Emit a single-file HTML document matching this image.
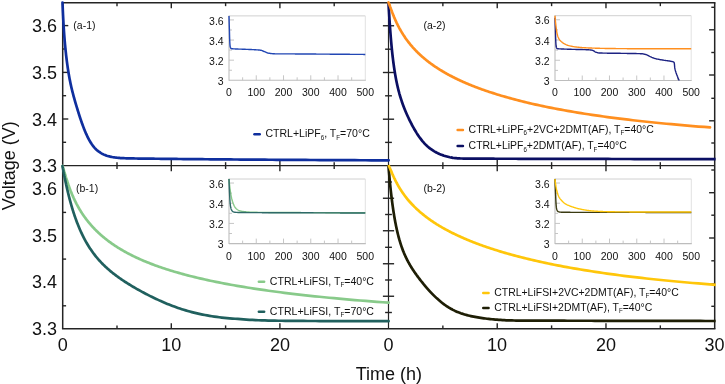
<!DOCTYPE html>
<html><head><meta charset="utf-8"><title>Voltage vs Time</title>
<style>
html,body{margin:0;padding:0;background:#fff;}
body{width:725px;height:384px;overflow:hidden;}
svg{display:block;will-change:transform;font-family:"Liberation Sans",Arial,Helvetica,sans-serif;}
</style></head><body>
<svg width="725" height="384" viewBox="0 0 725 384">
<rect width="725" height="384" fill="#fff"/>
<line x1="61.95" y1="2.75" x2="715.45" y2="2.75" stroke="#242424" stroke-width="1.5"/>
<line x1="62.70" y1="165.60" x2="714.70" y2="165.60" stroke="#242424" stroke-width="1.2"/>
<line x1="61.95" y1="328.80" x2="715.45" y2="328.80" stroke="#242424" stroke-width="1.5"/>
<line x1="62.70" y1="2.75" x2="62.70" y2="328.80" stroke="#242424" stroke-width="1.5"/>
<line x1="388.50" y1="2.75" x2="388.50" y2="328.80" stroke="#242424" stroke-width="1.2"/>
<line x1="714.70" y1="2.75" x2="714.70" y2="328.80" stroke="#242424" stroke-width="1.5"/>
<line x1="117.00" y1="2.75" x2="117.00" y2="6.15" stroke="#242424" stroke-width="1.4"/>
<line x1="117.00" y1="162.20" x2="117.00" y2="169.00" stroke="#242424" stroke-width="1.4"/>
<line x1="117.00" y1="325.40" x2="117.00" y2="328.80" stroke="#242424" stroke-width="1.4"/>
<line x1="171.30" y1="2.75" x2="171.30" y2="8.35" stroke="#242424" stroke-width="1.4"/>
<line x1="171.30" y1="160.00" x2="171.30" y2="171.20" stroke="#242424" stroke-width="1.4"/>
<line x1="171.30" y1="323.20" x2="171.30" y2="328.80" stroke="#242424" stroke-width="1.4"/>
<line x1="225.60" y1="2.75" x2="225.60" y2="6.15" stroke="#242424" stroke-width="1.4"/>
<line x1="225.60" y1="162.20" x2="225.60" y2="169.00" stroke="#242424" stroke-width="1.4"/>
<line x1="225.60" y1="325.40" x2="225.60" y2="328.80" stroke="#242424" stroke-width="1.4"/>
<line x1="279.90" y1="2.75" x2="279.90" y2="8.35" stroke="#242424" stroke-width="1.4"/>
<line x1="279.90" y1="160.00" x2="279.90" y2="171.20" stroke="#242424" stroke-width="1.4"/>
<line x1="279.90" y1="323.20" x2="279.90" y2="328.80" stroke="#242424" stroke-width="1.4"/>
<line x1="334.20" y1="2.75" x2="334.20" y2="6.15" stroke="#242424" stroke-width="1.4"/>
<line x1="334.20" y1="162.20" x2="334.20" y2="169.00" stroke="#242424" stroke-width="1.4"/>
<line x1="442.87" y1="2.75" x2="442.87" y2="6.15" stroke="#242424" stroke-width="1.4"/>
<line x1="442.87" y1="162.20" x2="442.87" y2="169.00" stroke="#242424" stroke-width="1.4"/>
<line x1="442.87" y1="325.40" x2="442.87" y2="328.80" stroke="#242424" stroke-width="1.4"/>
<line x1="497.23" y1="2.75" x2="497.23" y2="8.35" stroke="#242424" stroke-width="1.4"/>
<line x1="497.23" y1="160.00" x2="497.23" y2="171.20" stroke="#242424" stroke-width="1.4"/>
<line x1="497.23" y1="323.20" x2="497.23" y2="328.80" stroke="#242424" stroke-width="1.4"/>
<line x1="551.60" y1="2.75" x2="551.60" y2="6.15" stroke="#242424" stroke-width="1.4"/>
<line x1="551.60" y1="162.20" x2="551.60" y2="169.00" stroke="#242424" stroke-width="1.4"/>
<line x1="551.60" y1="325.40" x2="551.60" y2="328.80" stroke="#242424" stroke-width="1.4"/>
<line x1="605.97" y1="2.75" x2="605.97" y2="8.35" stroke="#242424" stroke-width="1.4"/>
<line x1="605.97" y1="160.00" x2="605.97" y2="171.20" stroke="#242424" stroke-width="1.4"/>
<line x1="605.97" y1="323.20" x2="605.97" y2="328.80" stroke="#242424" stroke-width="1.4"/>
<line x1="660.33" y1="2.75" x2="660.33" y2="6.15" stroke="#242424" stroke-width="1.4"/>
<line x1="660.33" y1="162.20" x2="660.33" y2="169.00" stroke="#242424" stroke-width="1.4"/>
<line x1="660.33" y1="325.40" x2="660.33" y2="328.80" stroke="#242424" stroke-width="1.4"/>
<line x1="62.70" y1="25.60" x2="68.30" y2="25.60" stroke="#242424" stroke-width="1.4"/>
<line x1="62.70" y1="72.40" x2="68.30" y2="72.40" stroke="#242424" stroke-width="1.4"/>
<line x1="62.70" y1="119.00" x2="68.30" y2="119.00" stroke="#242424" stroke-width="1.4"/>
<line x1="62.70" y1="49.00" x2="66.10" y2="49.00" stroke="#242424" stroke-width="1.4"/>
<line x1="62.70" y1="95.70" x2="66.10" y2="95.70" stroke="#242424" stroke-width="1.4"/>
<line x1="62.70" y1="142.30" x2="66.10" y2="142.30" stroke="#242424" stroke-width="1.4"/>
<line x1="62.70" y1="212.40" x2="66.10" y2="212.40" stroke="#242424" stroke-width="1.4"/>
<line x1="62.70" y1="259.10" x2="66.10" y2="259.10" stroke="#242424" stroke-width="1.4"/>
<line x1="62.70" y1="305.80" x2="66.10" y2="305.80" stroke="#242424" stroke-width="1.4"/>
<line x1="388.50" y1="25.75" x2="382.90" y2="25.75" stroke="#242424" stroke-width="1.4"/>
<line x1="388.50" y1="25.75" x2="394.10" y2="25.75" stroke="#242424" stroke-width="1.4"/>
<line x1="388.50" y1="72.50" x2="382.90" y2="72.50" stroke="#242424" stroke-width="1.4"/>
<line x1="388.50" y1="72.50" x2="394.10" y2="72.50" stroke="#242424" stroke-width="1.4"/>
<line x1="388.50" y1="119.20" x2="382.90" y2="119.20" stroke="#242424" stroke-width="1.4"/>
<line x1="388.50" y1="119.20" x2="394.10" y2="119.20" stroke="#242424" stroke-width="1.4"/>
<line x1="388.50" y1="49.20" x2="385.10" y2="49.20" stroke="#242424" stroke-width="1.4"/>
<line x1="388.50" y1="49.20" x2="391.90" y2="49.20" stroke="#242424" stroke-width="1.4"/>
<line x1="388.50" y1="95.80" x2="385.10" y2="95.80" stroke="#242424" stroke-width="1.4"/>
<line x1="388.50" y1="95.80" x2="391.90" y2="95.80" stroke="#242424" stroke-width="1.4"/>
<line x1="388.50" y1="142.40" x2="385.10" y2="142.40" stroke="#242424" stroke-width="1.4"/>
<line x1="388.50" y1="142.40" x2="391.90" y2="142.40" stroke="#242424" stroke-width="1.4"/>
<line x1="388.50" y1="198.25" x2="382.90" y2="198.25" stroke="#242424" stroke-width="1.4"/>
<line x1="388.50" y1="198.25" x2="394.10" y2="198.25" stroke="#242424" stroke-width="1.4"/>
<line x1="388.50" y1="230.75" x2="382.90" y2="230.75" stroke="#242424" stroke-width="1.4"/>
<line x1="388.50" y1="230.75" x2="394.10" y2="230.75" stroke="#242424" stroke-width="1.4"/>
<line x1="388.50" y1="263.75" x2="382.90" y2="263.75" stroke="#242424" stroke-width="1.4"/>
<line x1="388.50" y1="263.75" x2="394.10" y2="263.75" stroke="#242424" stroke-width="1.4"/>
<line x1="388.50" y1="296.25" x2="382.90" y2="296.25" stroke="#242424" stroke-width="1.4"/>
<line x1="388.50" y1="296.25" x2="394.10" y2="296.25" stroke="#242424" stroke-width="1.4"/>
<line x1="388.50" y1="182.00" x2="385.10" y2="182.00" stroke="#242424" stroke-width="1.4"/>
<line x1="388.50" y1="182.00" x2="391.90" y2="182.00" stroke="#242424" stroke-width="1.4"/>
<line x1="388.50" y1="214.50" x2="385.10" y2="214.50" stroke="#242424" stroke-width="1.4"/>
<line x1="388.50" y1="214.50" x2="391.90" y2="214.50" stroke="#242424" stroke-width="1.4"/>
<line x1="388.50" y1="247.30" x2="385.10" y2="247.30" stroke="#242424" stroke-width="1.4"/>
<line x1="388.50" y1="247.30" x2="391.90" y2="247.30" stroke="#242424" stroke-width="1.4"/>
<line x1="388.50" y1="280.00" x2="385.10" y2="280.00" stroke="#242424" stroke-width="1.4"/>
<line x1="388.50" y1="280.00" x2="391.90" y2="280.00" stroke="#242424" stroke-width="1.4"/>
<line x1="388.50" y1="312.50" x2="385.10" y2="312.50" stroke="#242424" stroke-width="1.4"/>
<line x1="388.50" y1="312.50" x2="391.90" y2="312.50" stroke="#242424" stroke-width="1.4"/>
<line x1="714.70" y1="29.80" x2="709.10" y2="29.80" stroke="#242424" stroke-width="1.4"/>
<line x1="714.70" y1="75.00" x2="709.10" y2="75.00" stroke="#242424" stroke-width="1.4"/>
<line x1="714.70" y1="120.80" x2="709.10" y2="120.80" stroke="#242424" stroke-width="1.4"/>
<line x1="714.70" y1="7.30" x2="711.30" y2="7.30" stroke="#242424" stroke-width="1.4"/>
<line x1="714.70" y1="52.50" x2="711.30" y2="52.50" stroke="#242424" stroke-width="1.4"/>
<line x1="714.70" y1="98.30" x2="711.30" y2="98.30" stroke="#242424" stroke-width="1.4"/>
<line x1="714.70" y1="143.00" x2="711.30" y2="143.00" stroke="#242424" stroke-width="1.4"/>
<line x1="714.70" y1="192.70" x2="709.10" y2="192.70" stroke="#242424" stroke-width="1.4"/>
<line x1="714.70" y1="238.00" x2="709.10" y2="238.00" stroke="#242424" stroke-width="1.4"/>
<line x1="714.70" y1="284.00" x2="709.10" y2="284.00" stroke="#242424" stroke-width="1.4"/>
<line x1="714.70" y1="170.00" x2="711.30" y2="170.00" stroke="#242424" stroke-width="1.4"/>
<line x1="714.70" y1="215.20" x2="711.30" y2="215.20" stroke="#242424" stroke-width="1.4"/>
<line x1="714.70" y1="260.80" x2="711.30" y2="260.80" stroke="#242424" stroke-width="1.4"/>
<line x1="714.70" y1="306.30" x2="711.30" y2="306.30" stroke="#242424" stroke-width="1.4"/>
<path d="M62.50,2.60 L62.55,4.03 L62.61,5.45 L62.67,6.85 L62.73,8.24 L62.78,9.61 L62.84,10.98 L62.91,12.33 L62.97,13.66 L63.03,14.99 L63.10,16.30 L63.16,17.60 L63.23,18.89 L63.30,20.17 L63.37,21.44 L63.44,22.70 L63.51,23.94 L63.58,25.18 L63.66,26.41 L63.73,27.62 L63.81,28.83 L63.89,30.03 L63.97,31.22 L64.05,32.39 L64.14,33.57 L64.22,34.73 L64.31,35.88 L64.40,37.03 L64.49,38.17 L64.58,39.30 L64.67,40.43 L64.76,41.55 L64.86,42.66 L64.96,43.76 L65.06,44.86 L65.16,45.96 L65.26,47.04 L65.37,48.13 L65.48,49.20 L65.59,50.28 L65.70,51.35 L65.81,52.41 L65.93,53.47 L66.04,54.53 L66.16,55.58 L66.29,56.63 L66.41,57.67 L66.54,58.72 L66.67,59.76 L66.80,60.80 L66.93,61.83 L67.07,62.87 L67.20,63.89 L67.35,64.92 L67.49,65.94 L67.64,66.96 L67.78,67.98 L67.94,68.99 L68.09,70.00 L68.25,71.01 L68.41,72.01 L68.57,73.01 L68.74,74.00 L68.91,74.99 L69.08,75.98 L69.25,76.96 L69.43,77.94 L69.61,78.91 L69.80,79.88 L69.99,80.84 L70.18,81.80 L70.38,82.76 L70.57,83.70 L70.78,84.65 L70.98,85.59 L71.19,86.52 L71.41,87.46 L71.63,88.39 L71.85,89.31 L72.07,90.24 L72.30,91.17 L72.54,92.10 L72.78,93.03 L73.02,93.96 L73.27,94.89 L73.52,95.83 L73.78,96.77 L74.04,97.72 L74.30,98.67 L74.57,99.63 L74.85,100.59 L75.13,101.57 L75.42,102.55 L75.71,103.55 L76.01,104.55 L76.31,105.56 L76.62,106.59 L76.93,107.63 L77.25,108.68 L77.57,109.75 L77.90,110.82 L78.24,111.91 L78.58,113.01 L78.93,114.12 L79.29,115.23 L79.65,116.35 L80.02,117.48 L80.39,118.62 L80.78,119.76 L81.17,120.90 L81.56,122.04 L81.97,123.19 L82.38,124.33 L82.80,125.48 L83.22,126.62 L83.66,127.76 L84.10,128.90 L84.55,130.02 L85.01,131.14 L85.48,132.25 L85.95,133.35 L86.44,134.43 L86.93,135.50 L87.43,136.56 L87.94,137.59 L88.46,138.61 L88.99,139.61 L89.53,140.58 L90.08,141.53 L90.64,142.45 L91.21,143.35 L91.79,144.22 L92.38,145.06 L92.99,145.87 L93.60,146.65 L94.22,147.39 L94.86,148.10 L95.51,148.78 L96.16,149.43 L96.84,150.05 L97.52,150.63 L98.22,151.19 L98.92,151.73 L99.65,152.23 L100.38,152.71 L101.13,153.16 L101.89,153.59 L102.67,153.99 L103.46,154.37 L104.26,154.73 L105.08,155.06 L105.92,155.38 L106.77,155.67 L107.63,155.94 L108.51,156.20 L109.41,156.43 L110.32,156.65 L111.25,156.85 L112.20,157.04 L113.16,157.21 L114.15,157.36 L115.15,157.50 L116.17,157.63 L117.20,157.75 L118.26,157.85 L119.33,157.94 L120.43,158.03 L121.54,158.10 L122.68,158.16 L123.84,158.22 L125.01,158.27 L126.21,158.31 L127.44,158.35 L128.68,158.38 L129.95,158.41 L131.23,158.43 L132.55,158.45 L133.88,158.47 L135.25,158.49 L136.63,158.51 L138.04,158.53 L139.48,158.54 L140.95,158.56 L142.44,158.58 L143.96,158.60 L145.50,158.61 L147.08,158.63 L148.68,158.65 L150.31,158.67 L151.97,158.69 L153.67,158.71 L155.39,158.73 L157.15,158.75 L158.93,158.77 L160.75,158.79 L162.61,158.81 L164.49,158.84 L166.42,158.86 L168.37,158.88 L170.37,158.90 L172.39,158.92 L174.46,158.94 L176.57,158.97 L178.71,158.99 L180.89,159.01 L183.11,159.03 L185.37,159.06 L187.68,159.08 L190.03,159.10 L192.41,159.13 L194.85,159.15 L197.32,159.17 L199.85,159.20 L202.42,159.22 L205.03,159.25 L207.70,159.27 L210.41,159.30 L213.17,159.32 L215.98,159.34 L218.85,159.37 L221.77,159.39 L224.74,159.42 L227.76,159.44 L230.84,159.47 L233.98,159.49 L237.17,159.52 L240.42,159.54 L243.73,159.57 L247.11,159.59 L250.54,159.62 L254.04,159.64 L257.60,159.67 L261.23,159.69 L264.92,159.72 L268.68,159.74 L272.51,159.77 L276.41,159.79 L280.38,159.82 L284.42,159.84 L288.54,159.87 L292.73,159.89 L297.00,159.92 L301.35,159.94 L305.77,159.97 L310.28,159.99 L314.87,160.02 L319.55,160.04 L324.31,160.07 L329.15,160.09 L334.09,160.11 L339.11,160.14 L344.23,160.16 L349.44,160.19 L354.75,160.21 L360.16,160.23 L365.66,160.26 L371.26,160.28 L376.97,160.30 L382.78,160.33 L388.70,160.35" fill="none" stroke="#0f2f9e" stroke-width="2.7" stroke-linecap="round" stroke-linejoin="round"/>
<path d="M388.50,2.50 L388.55,3.41 L388.60,4.32 L388.64,5.24 L388.69,6.16 L388.75,7.09 L388.80,8.02 L388.85,8.96 L388.90,9.90 L388.96,10.84 L389.01,11.79 L389.07,12.75 L389.12,13.70 L389.18,14.66 L389.24,15.62 L389.30,16.59 L389.36,17.56 L389.42,18.53 L389.48,19.51 L389.54,20.49 L389.61,21.47 L389.67,22.45 L389.74,23.44 L389.81,24.43 L389.88,25.42 L389.94,26.41 L390.01,27.40 L390.09,28.40 L390.16,29.39 L390.23,30.39 L390.31,31.39 L390.38,32.39 L390.46,33.39 L390.54,34.39 L390.62,35.40 L390.70,36.40 L390.78,37.40 L390.87,38.40 L390.95,39.40 L391.04,40.41 L391.13,41.41 L391.22,42.41 L391.31,43.41 L391.40,44.41 L391.49,45.40 L391.59,46.40 L391.68,47.39 L391.78,48.38 L391.88,49.38 L391.98,50.36 L392.08,51.35 L392.19,52.33 L392.29,53.32 L392.40,54.29 L392.51,55.27 L392.62,56.24 L392.74,57.21 L392.85,58.18 L392.97,59.14 L393.09,60.10 L393.21,61.06 L393.33,62.01 L393.45,62.96 L393.58,63.91 L393.71,64.85 L393.84,65.78 L393.97,66.72 L394.10,67.64 L394.24,68.57 L394.38,69.49 L394.52,70.40 L394.66,71.31 L394.81,72.22 L394.95,73.12 L395.10,74.01 L395.25,74.90 L395.41,75.79 L395.57,76.67 L395.73,77.54 L395.89,78.41 L396.05,79.28 L396.22,80.14 L396.39,80.99 L396.56,81.84 L396.74,82.69 L396.92,83.53 L397.10,84.37 L397.28,85.20 L397.47,86.02 L397.66,86.84 L397.85,87.66 L398.04,88.47 L398.24,89.28 L398.45,90.08 L398.65,90.88 L398.86,91.67 L399.07,92.47 L399.29,93.25 L399.50,94.04 L399.73,94.81 L399.95,95.59 L400.18,96.36 L400.41,97.13 L400.65,97.90 L400.89,98.66 L401.13,99.43 L401.38,100.19 L401.63,100.94 L401.89,101.70 L402.15,102.45 L402.41,103.20 L402.68,103.96 L402.95,104.71 L403.23,105.45 L403.51,106.20 L403.79,106.95 L404.08,107.70 L404.38,108.45 L404.68,109.20 L404.98,109.95 L405.29,110.70 L405.60,111.45 L405.92,112.20 L406.25,112.96 L406.58,113.71 L406.91,114.47 L407.25,115.23 L407.59,115.99 L407.94,116.75 L408.30,117.52 L408.66,118.29 L409.03,119.06 L409.40,119.83 L409.78,120.60 L410.16,121.38 L410.55,122.15 L410.95,122.93 L411.35,123.72 L411.76,124.50 L412.18,125.28 L412.60,126.07 L413.03,126.85 L413.47,127.64 L413.91,128.43 L414.36,129.21 L414.82,130.00 L415.28,130.78 L415.76,131.56 L416.24,132.34 L416.72,133.12 L417.22,133.89 L417.72,134.66 L418.23,135.42 L418.75,136.18 L419.28,136.93 L419.81,137.68 L420.35,138.41 L420.91,139.14 L421.47,139.86 L422.04,140.57 L422.62,141.28 L423.21,141.96 L423.80,142.64 L424.41,143.31 L425.03,143.96 L425.65,144.60 L426.29,145.23 L426.94,145.84 L427.59,146.44 L428.26,147.03 L428.94,147.60 L429.62,148.15 L430.32,148.69 L431.03,149.22 L431.76,149.73 L432.49,150.22 L433.23,150.70 L433.99,151.17 L434.76,151.62 L435.54,152.05 L436.33,152.47 L437.14,152.88 L437.96,153.28 L438.79,153.66 L439.63,154.03 L440.49,154.38 L441.36,154.72 L442.24,155.05 L443.14,155.37 L444.06,155.68 L444.99,155.97 L445.93,156.25 L446.89,156.52 L447.86,156.77 L448.85,157.01 L449.85,157.24 L450.87,157.45 L451.91,157.64 L452.96,157.82 L454.03,157.97 L455.11,158.11 L456.22,158.21 L457.34,158.30 L458.47,158.37 L459.63,158.43 L460.81,158.48 L462.00,158.52 L463.21,158.55 L464.44,158.58 L465.69,158.60 L466.96,158.62 L468.26,158.63 L469.57,158.64 L470.90,158.65 L472.25,158.66 L473.63,158.67 L475.02,158.68 L476.44,158.68 L477.88,158.69 L479.35,158.69 L480.83,158.69 L482.34,158.70 L483.88,158.70 L485.44,158.71 L487.02,158.71 L488.63,158.71 L490.26,158.72 L491.92,158.72 L493.61,158.72 L495.32,158.73 L497.06,158.73 L498.83,158.74 L500.63,158.74 L502.45,158.74 L504.31,158.75 L506.19,158.75 L508.10,158.76 L510.04,158.76 L512.02,158.76 L514.02,158.77 L516.06,158.77 L518.13,158.78 L520.23,158.78 L522.36,158.79 L524.53,158.79 L526.73,158.80 L528.97,158.80 L531.25,158.81 L533.56,158.81 L535.90,158.82 L538.29,158.82 L540.71,158.83 L543.17,158.83 L545.66,158.84 L548.20,158.84 L550.78,158.85 L553.40,158.85 L556.06,158.86 L558.76,158.86 L561.51,158.87 L564.30,158.88 L567.13,158.88 L570.01,158.89 L572.93,158.89 L575.90,158.90 L578.92,158.91 L581.98,158.91 L585.10,158.92 L588.26,158.93 L591.47,158.93 L594.74,158.94 L598.05,158.95 L601.42,158.96 L604.84,158.96 L608.32,158.97 L611.85,158.98 L615.44,158.99 L619.08,158.99 L622.78,159.00 L626.54,159.01 L630.36,159.02 L634.24,159.03 L638.18,159.03 L642.18,159.04 L646.25,159.05 L650.38,159.06 L654.58,159.07 L658.85,159.08 L663.18,159.09 L667.58,159.10 L672.05,159.11 L676.59,159.12 L681.20,159.13 L685.89,159.14 L690.65,159.15 L695.48,159.16 L700.39,159.17 L705.38,159.18 L710.45,159.19 L715.60,159.20" fill="none" stroke="#0b0f63" stroke-width="2.7" stroke-linecap="butt" stroke-linejoin="round"/>
<path d="M388.50,2.50 L388.55,2.61 L388.61,2.73 L388.67,2.86 L388.73,2.99 L388.78,3.12 L388.84,3.26 L388.90,3.41 L388.97,3.56 L389.03,3.71 L389.09,3.87 L389.16,4.04 L389.23,4.21 L389.30,4.39 L389.36,4.57 L389.43,4.75 L389.51,4.94 L389.58,5.14 L389.65,5.34 L389.73,5.54 L389.81,5.75 L389.89,5.96 L389.97,6.18 L390.05,6.41 L390.13,6.64 L390.21,6.87 L390.30,7.11 L390.39,7.35 L390.48,7.60 L390.57,7.85 L390.66,8.10 L390.76,8.36 L390.85,8.63 L390.95,8.90 L391.05,9.17 L391.15,9.45 L391.25,9.73 L391.36,10.02 L391.46,10.31 L391.57,10.60 L391.68,10.90 L391.80,11.21 L391.91,11.52 L392.03,11.83 L392.15,12.14 L392.27,12.46 L392.39,12.79 L392.52,13.12 L392.65,13.45 L392.78,13.79 L392.91,14.13 L393.04,14.47 L393.18,14.82 L393.32,15.17 L393.47,15.53 L393.61,15.89 L393.76,16.25 L393.91,16.62 L394.06,16.99 L394.22,17.36 L394.38,17.74 L394.54,18.12 L394.71,18.51 L394.87,18.90 L395.04,19.29 L395.22,19.69 L395.40,20.09 L395.58,20.49 L395.76,20.90 L395.95,21.31 L396.14,21.72 L396.33,22.14 L396.53,22.56 L396.73,22.99 L396.94,23.41 L397.15,23.84 L397.36,24.28 L397.57,24.72 L397.79,25.16 L398.02,25.60 L398.25,26.05 L398.48,26.50 L398.72,26.95 L398.96,27.41 L399.20,27.86 L399.45,28.33 L399.71,28.79 L399.97,29.26 L400.23,29.73 L400.50,30.20 L400.77,30.68 L401.05,31.16 L401.34,31.64 L401.63,32.13 L401.92,32.61 L402.22,33.11 L402.52,33.60 L402.84,34.09 L403.15,34.59 L403.47,35.09 L403.80,35.60 L404.14,36.10 L404.48,36.61 L404.82,37.13 L405.17,37.64 L405.53,38.16 L405.90,38.67 L406.27,39.20 L406.65,39.72 L407.04,40.25 L407.43,40.77 L407.83,41.30 L408.24,41.84 L408.65,42.37 L409.07,42.91 L409.50,43.45 L409.94,43.99 L410.39,44.53 L410.84,45.08 L411.31,45.63 L411.78,46.18 L412.26,46.73 L412.74,47.29 L413.24,47.84 L413.75,48.40 L414.26,48.96 L414.79,49.52 L415.32,50.08 L415.87,50.65 L416.42,51.22 L416.98,51.79 L417.56,52.36 L418.14,52.93 L418.74,53.50 L419.35,54.08 L419.96,54.66 L420.59,55.24 L421.23,55.82 L421.89,56.40 L422.55,56.98 L423.23,57.57 L423.91,58.16 L424.61,58.74 L425.33,59.33 L426.06,59.93 L426.80,60.52 L427.55,61.11 L428.32,61.71 L429.10,62.30 L429.89,62.90 L430.70,63.50 L431.53,64.10 L432.37,64.70 L433.22,65.30 L434.09,65.91 L434.98,66.51 L435.88,67.12 L436.80,67.73 L437.74,68.33 L438.69,68.94 L439.66,69.55 L440.65,70.16 L441.66,70.77 L442.68,71.39 L443.73,72.00 L444.79,72.61 L445.87,73.23 L446.97,73.84 L448.09,74.46 L449.24,75.08 L450.40,75.70 L451.58,76.31 L452.79,76.93 L454.02,77.55 L455.27,78.17 L456.54,78.79 L457.84,79.42 L459.16,80.04 L460.50,80.66 L461.87,81.28 L463.26,81.91 L464.68,82.53 L466.13,83.15 L467.60,83.78 L469.10,84.40 L470.62,85.03 L472.18,85.65 L473.76,86.28 L475.37,86.90 L477.01,87.53 L478.68,88.16 L480.38,88.78 L482.11,89.41 L483.87,90.03 L485.67,90.66 L487.50,91.29 L489.36,91.91 L491.25,92.54 L493.18,93.16 L495.15,93.79 L497.15,94.42 L499.19,95.04 L501.26,95.67 L503.37,96.29 L505.52,96.91 L507.71,97.54 L509.94,98.16 L512.21,98.78 L514.53,99.40 L516.88,100.02 L519.28,100.64 L521.72,101.25 L524.21,101.87 L526.74,102.48 L529.31,103.09 L531.94,103.70 L534.61,104.31 L537.33,104.92 L540.10,105.52 L542.92,106.13 L545.80,106.73 L548.72,107.33 L551.70,107.92 L554.73,108.52 L557.82,109.11 L560.97,109.69 L564.17,110.28 L567.43,110.86 L570.75,111.44 L574.13,112.02 L577.57,112.59 L581.07,113.16 L584.64,113.73 L588.28,114.29 L591.98,114.85 L595.75,115.41 L599.58,115.96 L603.49,116.51 L607.47,117.05 L611.52,117.59 L615.64,118.13 L619.84,118.66 L624.12,119.19 L628.47,119.71 L632.91,120.23 L637.42,120.75 L642.02,121.26 L646.70,121.76 L651.47,122.26 L656.32,122.76 L661.26,123.25 L666.29,123.73 L671.42,124.21 L676.63,124.69 L681.95,125.15 L687.36,125.62 L692.86,126.07 L698.47,126.53 L704.18,126.97 L710.00,127.41" fill="none" stroke="#ff8f1f" stroke-width="2.7" stroke-linecap="round" stroke-linejoin="round"/>
<path d="M62.50,166.00 L62.55,166.14 L62.61,166.29 L62.67,166.44 L62.73,166.60 L62.78,166.77 L62.84,166.94 L62.91,167.12 L62.97,167.30 L63.03,167.50 L63.10,167.70 L63.16,167.90 L63.23,168.11 L63.30,168.33 L63.37,168.55 L63.44,168.79 L63.51,169.02 L63.58,169.26 L63.66,169.51 L63.73,169.77 L63.81,170.03 L63.89,170.30 L63.97,170.57 L64.05,170.85 L64.14,171.13 L64.22,171.42 L64.31,171.72 L64.40,172.02 L64.49,172.33 L64.58,172.64 L64.67,172.96 L64.76,173.28 L64.86,173.61 L64.96,173.95 L65.06,174.29 L65.16,174.63 L65.26,174.98 L65.37,175.34 L65.48,175.70 L65.59,176.07 L65.70,176.44 L65.81,176.82 L65.93,177.20 L66.04,177.58 L66.16,177.98 L66.29,178.37 L66.41,178.77 L66.54,179.18 L66.67,179.59 L66.80,180.01 L66.93,180.43 L67.07,180.85 L67.20,181.28 L67.35,181.72 L67.49,182.15 L67.64,182.60 L67.78,183.04 L67.94,183.50 L68.09,183.95 L68.25,184.41 L68.41,184.88 L68.57,185.35 L68.74,185.82 L68.91,186.30 L69.08,186.78 L69.25,187.26 L69.43,187.75 L69.61,188.24 L69.80,188.74 L69.99,189.24 L70.18,189.75 L70.37,190.25 L70.57,190.77 L70.78,191.28 L70.98,191.80 L71.19,192.32 L71.41,192.85 L71.62,193.38 L71.85,193.91 L72.07,194.45 L72.30,194.99 L72.54,195.53 L72.78,196.08 L73.02,196.63 L73.27,197.18 L73.52,197.74 L73.77,198.30 L74.04,198.86 L74.30,199.42 L74.57,199.99 L74.85,200.56 L75.13,201.14 L75.42,201.71 L75.71,202.29 L76.00,202.87 L76.31,203.46 L76.61,204.05 L76.93,204.64 L77.25,205.23 L77.57,205.82 L77.90,206.42 L78.24,207.02 L78.58,207.62 L78.93,208.23 L79.29,208.84 L79.65,209.45 L80.02,210.06 L80.39,210.67 L80.77,211.29 L81.16,211.90 L81.56,212.52 L81.96,213.15 L82.38,213.77 L82.79,214.39 L83.22,215.02 L83.65,215.65 L84.10,216.28 L84.55,216.92 L85.01,217.55 L85.47,218.19 L85.95,218.82 L86.43,219.46 L86.92,220.10 L87.43,220.75 L87.94,221.39 L88.46,222.03 L88.99,222.68 L89.53,223.33 L90.08,223.98 L90.64,224.63 L91.21,225.28 L91.79,225.93 L92.38,226.58 L92.98,227.24 L93.59,227.89 L94.22,228.55 L94.85,229.21 L95.50,229.86 L96.16,230.52 L96.83,231.18 L97.51,231.84 L98.21,232.50 L98.92,233.16 L99.64,233.82 L100.37,234.49 L101.12,235.15 L101.88,235.81 L102.66,236.48 L103.45,237.14 L104.25,237.81 L105.07,238.47 L105.91,239.14 L106.76,239.80 L107.62,240.47 L108.50,241.13 L109.40,241.80 L110.31,242.46 L111.24,243.13 L112.19,243.79 L113.15,244.46 L114.14,245.12 L115.14,245.79 L116.15,246.45 L117.19,247.11 L118.25,247.78 L119.32,248.44 L120.42,249.10 L121.53,249.77 L122.67,250.43 L123.82,251.09 L125.00,251.75 L126.20,252.41 L127.42,253.07 L128.66,253.73 L129.93,254.39 L131.22,255.04 L132.53,255.70 L133.87,256.35 L135.23,257.01 L136.62,257.66 L138.03,258.31 L139.47,258.96 L140.93,259.61 L142.42,260.26 L143.94,260.91 L145.48,261.55 L147.06,262.20 L148.66,262.84 L150.29,263.48 L151.95,264.12 L153.65,264.76 L155.37,265.40 L157.12,266.04 L158.91,266.67 L160.73,267.30 L162.58,267.93 L164.47,268.56 L166.39,269.19 L168.35,269.82 L170.34,270.44 L172.37,271.06 L174.43,271.68 L176.54,272.30 L178.68,272.91 L180.86,273.53 L183.08,274.14 L185.34,274.75 L187.65,275.35 L189.99,275.96 L192.38,276.56 L194.81,277.16 L197.29,277.75 L199.81,278.35 L202.38,278.94 L205.00,279.53 L207.66,280.12 L210.37,280.70 L213.13,281.28 L215.94,281.86 L218.81,282.44 L221.72,283.01 L224.69,283.58 L227.72,284.15 L230.80,284.71 L233.93,285.28 L237.12,285.83 L240.38,286.39 L243.69,286.94 L247.06,287.49 L250.49,288.04 L253.99,288.58 L257.55,289.12 L261.17,289.65 L264.86,290.19 L268.62,290.72 L272.45,291.24 L276.35,291.76 L280.31,292.28 L284.36,292.80 L288.47,293.31 L292.66,293.82 L296.93,294.32 L301.28,294.82 L305.70,295.31 L310.21,295.81 L314.80,296.30 L319.47,296.78 L324.23,297.26 L329.07,297.74 L334.01,298.21 L339.03,298.68 L344.15,299.14 L349.36,299.60 L354.66,300.05 L360.07,300.51 L365.57,300.95 L371.17,301.39 L376.88,301.83 L382.68,302.26 L388.60,302.69" fill="none" stroke="#88ca8a" stroke-width="2.7" stroke-linecap="round" stroke-linejoin="round"/>
<path d="M62.50,166.01 L62.55,166.28 L62.60,166.55 L62.64,166.82 L62.69,167.10 L62.75,167.38 L62.80,167.67 L62.85,167.96 L62.90,168.25 L62.96,168.54 L63.01,168.84 L63.07,169.15 L63.12,169.45 L63.18,169.76 L63.24,170.08 L63.30,170.40 L63.36,170.72 L63.42,171.05 L63.48,171.38 L63.54,171.71 L63.61,172.05 L63.67,172.39 L63.74,172.74 L63.81,173.09 L63.87,173.45 L63.94,173.81 L64.01,174.17 L64.09,174.54 L64.16,174.91 L64.23,175.29 L64.31,175.67 L64.38,176.05 L64.46,176.44 L64.54,176.84 L64.62,177.24 L64.70,177.64 L64.78,178.05 L64.87,178.46 L64.95,178.88 L65.04,179.30 L65.12,179.72 L65.21,180.15 L65.30,180.59 L65.40,181.03 L65.49,181.47 L65.58,181.92 L65.68,182.37 L65.78,182.83 L65.88,183.30 L65.98,183.76 L66.08,184.24 L66.19,184.71 L66.29,185.19 L66.40,185.68 L66.51,186.17 L66.62,186.67 L66.73,187.17 L66.85,187.68 L66.96,188.19 L67.08,188.70 L67.20,189.22 L67.32,189.75 L67.45,190.28 L67.57,190.81 L67.70,191.35 L67.83,191.89 L67.96,192.44 L68.10,192.99 L68.23,193.55 L68.37,194.11 L68.51,194.68 L68.65,195.25 L68.80,195.83 L68.95,196.41 L69.10,196.99 L69.25,197.58 L69.40,198.18 L69.56,198.78 L69.72,199.38 L69.88,199.99 L70.04,200.60 L70.21,201.22 L70.38,201.84 L70.55,202.46 L70.73,203.09 L70.91,203.73 L71.09,204.36 L71.27,205.01 L71.46,205.65 L71.65,206.30 L71.84,206.95 L72.03,207.61 L72.23,208.27 L72.43,208.94 L72.64,209.60 L72.85,210.28 L73.06,210.95 L73.27,211.63 L73.49,212.31 L73.71,213.00 L73.94,213.69 L74.17,214.38 L74.40,215.07 L74.63,215.77 L74.87,216.47 L75.12,217.17 L75.36,217.88 L75.61,218.59 L75.87,219.30 L76.13,220.01 L76.39,220.73 L76.66,221.45 L76.93,222.17 L77.21,222.89 L77.49,223.61 L77.77,224.34 L78.06,225.07 L78.36,225.80 L78.66,226.53 L78.96,227.26 L79.27,227.99 L79.58,228.73 L79.90,229.47 L80.22,230.20 L80.55,230.94 L80.88,231.68 L81.22,232.42 L81.56,233.16 L81.91,233.90 L82.27,234.64 L82.63,235.38 L83.00,236.12 L83.37,236.86 L83.75,237.60 L84.13,238.34 L84.52,239.09 L84.92,239.83 L85.32,240.57 L85.73,241.30 L86.14,242.04 L86.56,242.78 L86.99,243.52 L87.43,244.25 L87.87,244.99 L88.32,245.72 L88.78,246.45 L89.24,247.18 L89.71,247.91 L90.19,248.64 L90.68,249.37 L91.17,250.09 L91.67,250.82 L92.18,251.54 L92.70,252.26 L93.22,252.98 L93.76,253.69 L94.30,254.41 L94.85,255.12 L95.41,255.83 L95.98,256.54 L96.56,257.24 L97.14,257.95 L97.74,258.65 L98.35,259.35 L98.96,260.04 L99.59,260.74 L100.22,261.43 L100.87,262.12 L101.52,262.81 L102.19,263.50 L102.86,264.19 L103.55,264.87 L104.25,265.55 L104.95,266.23 L105.67,266.91 L106.41,267.58 L107.15,268.26 L107.90,268.93 L108.67,269.60 L109.45,270.27 L110.24,270.94 L111.04,271.61 L111.86,272.27 L112.69,272.94 L113.53,273.61 L114.39,274.27 L115.25,274.93 L116.14,275.60 L117.03,276.26 L117.95,276.93 L118.87,277.59 L119.81,278.25 L120.77,278.92 L121.74,279.58 L122.72,280.25 L123.72,280.92 L124.74,281.59 L125.77,282.25 L126.82,282.93 L127.89,283.60 L128.97,284.27 L130.07,284.95 L131.19,285.63 L132.32,286.31 L133.48,286.99 L134.65,287.68 L135.84,288.37 L137.05,289.06 L138.28,289.75 L139.52,290.44 L140.79,291.14 L142.08,291.84 L143.39,292.54 L144.71,293.25 L146.06,293.96 L147.43,294.66 L148.83,295.38 L150.24,296.09 L151.68,296.80 L153.14,297.51 L154.62,298.23 L156.13,298.94 L157.66,299.65 L159.21,300.37 L160.79,301.08 L162.39,301.78 L164.02,302.49 L165.68,303.19 L167.36,303.88 L169.07,304.57 L170.80,305.26 L172.57,305.93 L174.36,306.60 L176.18,307.26 L178.02,307.91 L179.90,308.55 L181.81,309.17 L183.74,309.79 L185.71,310.39 L187.71,310.97 L189.74,311.54 L191.80,312.09 L193.90,312.63 L196.03,313.15 L198.19,313.65 L200.38,314.13 L202.62,314.59 L204.88,315.03 L207.18,315.45 L209.52,315.85 L211.90,316.23 L214.31,316.59 L216.76,316.93 L219.25,317.25 L221.78,317.54 L224.35,317.82 L226.96,318.09 L229.62,318.33 L232.31,318.55 L235.05,318.76 L237.83,318.95 L240.65,319.15 L243.52,319.39 L246.43,319.61 L249.39,319.79 L252.40,319.96 L255.45,320.11 L258.56,320.23 L261.71,320.35 L264.91,320.44 L268.16,320.53 L271.47,320.60 L274.83,320.67 L278.24,320.73 L281.70,320.77 L285.22,320.82 L288.79,320.86 L292.42,320.89 L296.11,320.92 L299.86,320.94 L303.66,320.97 L307.53,320.99 L311.46,321.01 L315.45,321.02 L319.50,321.04 L323.62,321.05 L327.80,321.07 L332.05,321.08 L336.37,321.09 L340.75,321.10 L345.20,321.11 L349.73,321.12 L354.32,321.13 L358.99,321.14 L363.74,321.15 L368.55,321.16 L373.45,321.17 L378.42,321.18 L383.47,321.19 L388.60,321.20" fill="none" stroke="#20605e" stroke-width="2.7" stroke-linecap="round" stroke-linejoin="round"/>
<path d="M388.50,166.01 L388.55,166.61 L388.60,167.21 L388.64,167.82 L388.69,168.43 L388.75,169.04 L388.80,169.67 L388.85,170.29 L388.90,170.92 L388.96,171.56 L389.01,172.20 L389.07,172.85 L389.12,173.50 L389.18,174.16 L389.24,174.82 L389.30,175.49 L389.36,176.16 L389.42,176.84 L389.48,177.52 L389.54,178.21 L389.61,178.90 L389.67,179.60 L389.74,180.30 L389.81,181.00 L389.88,181.71 L389.94,182.43 L390.01,183.15 L390.09,183.87 L390.16,184.60 L390.23,185.33 L390.31,186.07 L390.38,186.81 L390.46,187.55 L390.54,188.30 L390.62,189.05 L390.70,189.81 L390.78,190.57 L390.87,191.33 L390.95,192.10 L391.04,192.87 L391.13,193.64 L391.22,194.42 L391.31,195.20 L391.40,195.98 L391.49,196.76 L391.59,197.55 L391.68,198.34 L391.78,199.14 L391.88,199.93 L391.98,200.73 L392.08,201.53 L392.19,202.33 L392.29,203.14 L392.40,203.95 L392.51,204.76 L392.62,205.57 L392.74,206.38 L392.85,207.19 L392.97,208.00 L393.09,208.82 L393.21,209.64 L393.33,210.45 L393.45,211.27 L393.58,212.09 L393.71,212.91 L393.84,213.73 L393.97,214.55 L394.10,215.37 L394.24,216.19 L394.38,217.01 L394.52,217.83 L394.66,218.65 L394.81,219.47 L394.95,220.28 L395.10,221.10 L395.25,221.92 L395.41,222.73 L395.57,223.54 L395.73,224.36 L395.89,225.17 L396.05,225.98 L396.22,226.78 L396.39,227.59 L396.56,228.39 L396.74,229.19 L396.92,229.99 L397.10,230.79 L397.28,231.58 L397.47,232.37 L397.66,233.16 L397.85,233.95 L398.04,234.73 L398.24,235.51 L398.45,236.29 L398.65,237.07 L398.86,237.84 L399.07,238.61 L399.29,239.37 L399.50,240.13 L399.73,240.89 L399.95,241.65 L400.18,242.40 L400.41,243.15 L400.65,243.89 L400.89,244.63 L401.13,245.37 L401.38,246.10 L401.63,246.83 L401.89,247.56 L402.15,248.28 L402.41,249.00 L402.68,249.71 L402.95,250.42 L403.23,251.13 L403.51,251.83 L403.79,252.54 L404.08,253.23 L404.38,253.93 L404.68,254.62 L404.98,255.31 L405.29,255.99 L405.60,256.67 L405.92,257.35 L406.25,258.03 L406.58,258.70 L406.91,259.37 L407.25,260.04 L407.59,260.71 L407.94,261.37 L408.30,262.04 L408.66,262.70 L409.03,263.36 L409.40,264.02 L409.78,264.68 L410.16,265.33 L410.55,265.99 L410.95,266.65 L411.35,267.30 L411.76,267.96 L412.18,268.61 L412.60,269.27 L413.03,269.93 L413.47,270.59 L413.91,271.25 L414.36,271.91 L414.82,272.58 L415.28,273.24 L415.76,273.91 L416.24,274.58 L416.72,275.26 L417.22,275.93 L417.72,276.61 L418.23,277.30 L418.75,277.98 L419.28,278.68 L419.81,279.37 L420.35,280.07 L420.91,280.77 L421.47,281.48 L422.04,282.19 L422.62,282.91 L423.21,283.63 L423.80,284.36 L424.41,285.08 L425.03,285.82 L425.65,286.56 L426.29,287.30 L426.94,288.04 L427.59,288.79 L428.26,289.54 L428.94,290.29 L429.62,291.05 L430.32,291.81 L431.03,292.56 L431.76,293.32 L432.49,294.08 L433.23,294.84 L433.99,295.60 L434.76,296.36 L435.54,297.11 L436.33,297.86 L437.14,298.60 L437.96,299.35 L438.79,300.08 L439.63,300.81 L440.49,301.53 L441.36,302.24 L442.24,302.94 L443.14,303.64 L444.06,304.32 L444.99,304.99 L445.93,305.65 L446.89,306.29 L447.86,306.92 L448.85,307.54 L449.85,308.14 L450.87,308.73 L451.91,309.29 L452.96,309.85 L454.03,310.38 L455.11,310.90 L456.22,311.40 L457.34,311.89 L458.47,312.36 L459.63,312.80 L460.81,313.24 L462.00,313.65 L463.21,314.05 L464.44,314.43 L465.69,314.80 L466.96,315.15 L468.26,315.48 L469.57,315.80 L470.90,316.11 L472.25,316.40 L473.63,316.68 L475.02,316.95 L476.44,317.20 L477.88,317.45 L479.35,317.68 L480.83,317.91 L482.34,318.12 L483.88,318.33 L485.44,318.53 L487.02,318.72 L488.63,318.90 L490.26,319.08 L491.92,319.25 L493.61,319.41 L495.32,319.56 L497.06,319.71 L498.83,319.84 L500.63,319.97 L502.45,320.08 L504.31,320.19 L506.19,320.28 L508.10,320.35 L510.04,320.41 L512.02,320.46 L514.02,320.50 L516.06,320.53 L518.13,320.56 L520.23,320.58 L522.36,320.60 L524.53,320.61 L526.73,320.62 L528.97,320.64 L531.25,320.64 L533.56,320.65 L535.90,320.66 L538.29,320.67 L540.71,320.67 L543.17,320.68 L545.66,320.69 L548.20,320.69 L550.78,320.70 L553.40,320.70 L556.06,320.71 L558.76,320.71 L561.51,320.72 L564.30,320.72 L567.13,320.73 L570.01,320.73 L572.93,320.74 L575.90,320.74 L578.92,320.75 L581.98,320.75 L585.10,320.76 L588.26,320.77 L591.47,320.77 L594.74,320.78 L598.05,320.78 L601.42,320.79 L604.84,320.80 L608.32,320.80 L611.85,320.81 L615.44,320.82 L619.08,320.82 L622.78,320.83 L626.54,320.84 L630.36,320.84 L634.24,320.85 L638.18,320.86 L642.18,320.87 L646.25,320.87 L650.38,320.88 L654.58,320.89 L658.85,320.90 L663.18,320.90 L667.58,320.91 L672.05,320.92 L676.59,320.93 L681.20,320.94 L685.89,320.95 L690.65,320.95 L695.48,320.96 L700.39,320.97 L705.38,320.98 L710.45,320.99 L715.60,321.00" fill="none" stroke="#1e1e05" stroke-width="2.7" stroke-linecap="butt" stroke-linejoin="round"/>
<path d="M388.50,165.00 L388.55,165.10 L388.61,165.21 L388.67,165.32 L388.73,165.43 L388.79,165.55 L388.85,165.67 L388.91,165.80 L388.97,165.93 L389.03,166.07 L389.10,166.21 L389.16,166.36 L389.23,166.51 L389.30,166.66 L389.37,166.82 L389.44,166.98 L389.51,167.15 L389.58,167.32 L389.66,167.50 L389.74,167.68 L389.81,167.86 L389.89,168.05 L389.97,168.24 L390.05,168.44 L390.14,168.64 L390.22,168.84 L390.31,169.05 L390.40,169.26 L390.49,169.48 L390.58,169.70 L390.67,169.93 L390.77,170.16 L390.86,170.39 L390.96,170.63 L391.06,170.87 L391.16,171.11 L391.27,171.36 L391.37,171.61 L391.48,171.87 L391.59,172.13 L391.70,172.39 L391.81,172.66 L391.93,172.93 L392.05,173.21 L392.17,173.49 L392.29,173.77 L392.41,174.06 L392.54,174.35 L392.67,174.64 L392.80,174.94 L392.94,175.24 L393.07,175.55 L393.21,175.85 L393.35,176.17 L393.50,176.48 L393.64,176.80 L393.79,177.12 L393.94,177.45 L394.10,177.78 L394.25,178.11 L394.42,178.45 L394.58,178.79 L394.74,179.13 L394.91,179.48 L395.09,179.83 L395.26,180.19 L395.44,180.54 L395.62,180.90 L395.81,181.27 L396.00,181.63 L396.19,182.00 L396.39,182.38 L396.58,182.76 L396.79,183.14 L396.99,183.52 L397.21,183.90 L397.42,184.29 L397.64,184.69 L397.86,185.08 L398.09,185.48 L398.32,185.88 L398.55,186.29 L398.79,186.70 L399.03,187.11 L399.28,187.52 L399.53,187.94 L399.79,188.36 L400.05,188.78 L400.32,189.21 L400.59,189.64 L400.87,190.07 L401.15,190.50 L401.44,190.94 L401.73,191.38 L402.03,191.82 L402.33,192.27 L402.64,192.72 L402.95,193.17 L403.27,193.62 L403.60,194.08 L403.93,194.54 L404.26,195.00 L404.61,195.47 L404.96,195.94 L405.31,196.41 L405.68,196.88 L406.05,197.36 L406.42,197.83 L406.81,198.31 L407.20,198.80 L407.59,199.28 L408.00,199.77 L408.41,200.26 L408.83,200.75 L409.26,201.25 L409.69,201.75 L410.14,202.25 L410.59,202.75 L411.05,203.26 L411.52,203.76 L411.99,204.27 L412.48,204.79 L412.97,205.30 L413.48,205.82 L413.99,206.34 L414.51,206.86 L415.04,207.38 L415.58,207.91 L416.13,208.44 L416.69,208.97 L417.27,209.50 L417.85,210.03 L418.44,210.57 L419.04,211.11 L419.66,211.65 L420.28,212.19 L420.92,212.73 L421.57,213.28 L422.23,213.83 L422.90,214.38 L423.59,214.93 L424.29,215.49 L425.00,216.04 L425.72,216.60 L426.46,217.16 L427.21,217.72 L427.97,218.29 L428.75,218.85 L429.54,219.42 L430.35,219.99 L431.17,220.56 L432.01,221.14 L432.86,221.71 L433.73,222.29 L434.61,222.86 L435.51,223.44 L436.42,224.03 L437.36,224.61 L438.31,225.19 L439.27,225.78 L440.26,226.37 L441.26,226.96 L442.28,227.55 L443.32,228.14 L444.38,228.73 L445.46,229.33 L446.56,229.93 L447.68,230.52 L448.82,231.12 L449.98,231.73 L451.16,232.33 L452.36,232.93 L453.59,233.54 L454.83,234.14 L456.10,234.75 L457.40,235.36 L458.71,235.97 L460.05,236.58 L461.42,237.20 L462.81,237.81 L464.23,238.43 L465.67,239.04 L467.14,239.66 L468.63,240.28 L470.16,240.90 L471.71,241.52 L473.29,242.15 L474.89,242.77 L476.53,243.39 L478.20,244.02 L479.90,244.65 L481.63,245.27 L483.39,245.90 L485.18,246.53 L487.01,247.16 L488.87,247.79 L490.76,248.43 L492.69,249.06 L494.65,249.69 L496.65,250.32 L498.69,250.96 L500.76,251.59 L502.87,252.22 L505.02,252.86 L507.21,253.49 L509.44,254.12 L511.71,254.76 L514.02,255.39 L516.38,256.02 L518.77,256.65 L521.21,257.28 L523.70,257.91 L526.23,258.54 L528.81,259.17 L531.43,259.79 L534.11,260.41 L536.83,261.04 L539.60,261.66 L542.42,262.28 L545.30,262.89 L548.23,263.51 L551.21,264.12 L554.24,264.73 L557.33,265.34 L560.48,265.95 L563.69,266.55 L566.95,267.15 L570.27,267.75 L573.66,268.35 L577.11,268.94 L580.62,269.53 L584.19,270.12 L587.83,270.70 L591.54,271.28 L595.31,271.86 L599.15,272.43 L603.07,273.00 L607.05,273.57 L611.11,274.13 L615.24,274.69 L619.45,275.24 L623.74,275.79 L628.10,276.34 L632.54,276.88 L637.07,277.41 L641.68,277.94 L646.37,278.47 L651.15,278.99 L656.02,279.51 L660.97,280.02 L666.02,280.53 L671.15,281.03 L676.39,281.52 L681.72,282.01 L687.14,282.50 L692.67,282.98 L698.29,283.45 L704.02,283.92 L709.86,284.38 L715.80,284.83" fill="none" stroke="#ffc60a" stroke-width="2.7" stroke-linecap="butt" stroke-linejoin="round"/>
<text x="57.00" y="32.20" font-size="18" text-anchor="end" fill="#111">3.6</text>
<text x="57.00" y="79.00" font-size="18" text-anchor="end" fill="#111">3.5</text>
<text x="57.00" y="125.60" font-size="18" text-anchor="end" fill="#111">3.4</text>
<text x="57.00" y="172.20" font-size="18" text-anchor="end" fill="#111">3.3</text>
<text x="57.00" y="194.90" font-size="18" text-anchor="end" fill="#111">3.6</text>
<text x="57.00" y="241.80" font-size="18" text-anchor="end" fill="#111">3.5</text>
<text x="57.00" y="288.30" font-size="18" text-anchor="end" fill="#111">3.4</text>
<text x="57.00" y="334.60" font-size="18" text-anchor="end" fill="#111">3.3</text>
<text x="62.70" y="350.80" font-size="18" text-anchor="middle" fill="#111">0</text>
<text x="171.30" y="350.80" font-size="18" text-anchor="middle" fill="#111">10</text>
<text x="280.00" y="350.80" font-size="18" text-anchor="middle" fill="#111">20</text>
<text x="388.50" y="350.80" font-size="18" text-anchor="middle" fill="#111">0</text>
<text x="497.00" y="350.80" font-size="18" text-anchor="middle" fill="#111">10</text>
<text x="606.00" y="350.80" font-size="18" text-anchor="middle" fill="#111">20</text>
<text x="714.50" y="350.80" font-size="18" text-anchor="middle" fill="#111">30</text>
<text x="388.80" y="380.20" font-size="18" text-anchor="middle" fill="#111">Time (h)</text>
<text transform="translate(15,165.8) rotate(-90)" font-size="18" text-anchor="middle" fill="#111">Voltage (V)</text>
<text x="73.30" y="29.00" font-size="10.5" text-anchor="start" fill="#111">(a-1)</text>
<text x="423.40" y="28.80" font-size="10.5" text-anchor="start" fill="#111">(a-2)</text>
<text x="76.00" y="191.70" font-size="10.5" text-anchor="start" fill="#111">(b-1)</text>
<text x="423.40" y="191.70" font-size="10.5" text-anchor="start" fill="#111">(b-2)</text>
<rect x="229" y="15.9" width="136.3" height="64.4" fill="#fff"/>
<line x1="229.00" y1="15.90" x2="365.30" y2="15.90" stroke="#d0d0d0" stroke-width="1.0"/>
<line x1="365.30" y1="15.90" x2="365.30" y2="80.30" stroke="#e2e2e2" stroke-width="1.0"/>
<line x1="229.00" y1="15.40" x2="229.00" y2="80.80" stroke="#bdbdbd" stroke-width="1.1"/>
<line x1="229.00" y1="80.30" x2="365.80" y2="80.30" stroke="#bdbdbd" stroke-width="1.1"/>
<line x1="242.63" y1="80.30" x2="242.63" y2="77.30" stroke="#c0c0c0" stroke-width="0.9"/>
<line x1="256.26" y1="80.30" x2="256.26" y2="75.30" stroke="#c0c0c0" stroke-width="0.9"/>
<line x1="269.89" y1="80.30" x2="269.89" y2="77.30" stroke="#c0c0c0" stroke-width="0.9"/>
<line x1="283.52" y1="80.30" x2="283.52" y2="75.30" stroke="#c0c0c0" stroke-width="0.9"/>
<line x1="297.15" y1="80.30" x2="297.15" y2="77.30" stroke="#c0c0c0" stroke-width="0.9"/>
<line x1="310.78" y1="80.30" x2="310.78" y2="75.30" stroke="#c0c0c0" stroke-width="0.9"/>
<line x1="324.41" y1="80.30" x2="324.41" y2="77.30" stroke="#c0c0c0" stroke-width="0.9"/>
<line x1="338.04" y1="80.30" x2="338.04" y2="75.30" stroke="#c0c0c0" stroke-width="0.9"/>
<line x1="351.67" y1="80.30" x2="351.67" y2="77.30" stroke="#c0c0c0" stroke-width="0.9"/>
<line x1="229.00" y1="70.24" x2="232.00" y2="70.24" stroke="#c0c0c0" stroke-width="0.9"/>
<line x1="229.00" y1="60.18" x2="234.00" y2="60.18" stroke="#c0c0c0" stroke-width="0.9"/>
<line x1="229.00" y1="50.11" x2="232.00" y2="50.11" stroke="#c0c0c0" stroke-width="0.9"/>
<line x1="229.00" y1="40.05" x2="234.00" y2="40.05" stroke="#c0c0c0" stroke-width="0.9"/>
<line x1="229.00" y1="29.99" x2="232.00" y2="29.99" stroke="#c0c0c0" stroke-width="0.9"/>
<line x1="229.00" y1="19.93" x2="234.00" y2="19.93" stroke="#c0c0c0" stroke-width="0.9"/>
<text x="223.70" y="84.90" font-size="10.5" text-anchor="end" fill="#111">3</text>
<text x="223.70" y="64.78" font-size="10.5" text-anchor="end" fill="#111">3.2</text>
<text x="223.70" y="44.65" font-size="10.5" text-anchor="end" fill="#111">3.4</text>
<text x="223.70" y="24.53" font-size="10.5" text-anchor="end" fill="#111">3.6</text>
<text x="229.00" y="96.20" font-size="10.5" text-anchor="middle" fill="#111">0</text>
<text x="256.26" y="96.20" font-size="10.5" text-anchor="middle" fill="#111">100</text>
<text x="283.52" y="96.20" font-size="10.5" text-anchor="middle" fill="#111">200</text>
<text x="310.78" y="96.20" font-size="10.5" text-anchor="middle" fill="#111">300</text>
<text x="338.04" y="96.20" font-size="10.5" text-anchor="middle" fill="#111">400</text>
<text x="365.30" y="96.20" font-size="10.5" text-anchor="middle" fill="#111">500</text>
<path d="M229.00,15.90 L229.01,16.46 L229.03,17.02 L229.04,17.58 L229.05,18.14 L229.07,18.70 L229.08,19.26 L229.10,19.82 L229.11,20.39 L229.13,20.95 L229.14,21.51 L229.16,22.07 L229.18,22.63 L229.19,23.19 L229.21,23.75 L229.22,24.31 L229.24,24.87 L229.26,25.43 L229.28,25.99 L229.29,26.55 L229.31,27.11 L229.33,27.67 L229.35,28.23 L229.37,28.79 L229.39,29.35 L229.41,29.91 L229.43,30.48 L229.44,31.04 L229.46,31.60 L229.47,32.17 L229.49,32.74 L229.50,33.31 L229.52,33.87 L229.53,34.44 L229.54,35.01 L229.56,35.58 L229.57,36.15 L229.59,36.72 L229.60,37.29 L229.62,37.86 L229.64,38.43 L229.66,39.00 L229.68,39.56 L229.70,40.12 L229.72,40.69 L229.75,41.25 L229.78,41.80 L229.81,42.36 L229.84,42.91 L229.87,43.46 L229.91,44.01 L229.95,44.55 L230.00,45.09 L230.05,45.63 L230.10,46.16 L230.21,46.77 L230.40,47.42 L230.66,48.01 L230.95,48.44 L231.26,48.63 L231.69,48.71 L232.23,48.77 L232.84,48.81 L233.47,48.85 L234.10,48.89 L234.67,48.92 L235.23,48.95 L235.79,48.97 L236.35,49.00 L236.91,49.02 L237.47,49.05 L238.03,49.07 L238.59,49.09 L239.15,49.10 L239.71,49.12 L240.27,49.14 L240.83,49.16 L241.39,49.17 L241.96,49.19 L242.52,49.21 L243.08,49.23 L243.64,49.24 L244.20,49.26 L244.76,49.28 L245.32,49.31 L245.88,49.33 L246.44,49.35 L247.00,49.37 L247.56,49.39 L248.12,49.42 L248.68,49.44 L249.24,49.46 L249.80,49.48 L250.36,49.51 L250.93,49.53 L251.49,49.55 L252.05,49.58 L252.61,49.60 L253.17,49.63 L253.73,49.66 L254.29,49.69 L254.85,49.72 L255.41,49.76 L255.96,49.79 L256.52,49.83 L257.09,49.87 L257.65,49.91 L258.21,49.95 L258.78,50.01 L259.34,50.06 L259.90,50.13 L260.45,50.20 L260.99,50.28 L261.53,50.39 L262.05,50.56 L262.57,50.77 L263.09,51.01 L263.60,51.26 L264.12,51.49 L264.64,51.70 L265.17,51.92 L265.69,52.15 L266.21,52.37 L266.73,52.59 L267.26,52.79 L267.79,52.96 L268.32,53.09 L268.86,53.19 L269.41,53.28 L269.96,53.36 L270.52,53.44 L271.07,53.52 L271.63,53.59 L272.20,53.65 L272.76,53.70 L273.32,53.75 L273.89,53.78 L274.45,53.81 L275.01,53.83 L275.57,53.84 L276.13,53.84 L276.69,53.85 L277.25,53.85 L277.81,53.86 L278.37,53.86 L278.93,53.87 L279.49,53.87 L280.05,53.87 L280.61,53.88 L281.17,53.88 L281.73,53.88 L282.29,53.89 L282.85,53.89 L283.41,53.89 L283.97,53.89 L284.53,53.89 L285.09,53.90 L285.66,53.90 L286.22,53.90 L286.78,53.90 L287.34,53.90 L287.90,53.90 L288.46,53.91 L289.02,53.91 L289.58,53.91 L290.15,53.91 L290.71,53.91 L291.27,53.91 L291.83,53.91 L292.39,53.92 L292.95,53.92 L293.51,53.92 L294.08,53.92 L294.64,53.92 L295.20,53.93 L295.76,53.93 L296.32,53.93 L296.88,53.93 L297.44,53.94 L298.00,53.94 L298.56,53.94 L299.12,53.95 L299.68,53.95 L300.25,53.95 L300.81,53.96 L301.37,53.96 L301.93,53.97 L302.49,53.97 L303.05,53.97 L303.61,53.98 L304.17,53.98 L304.73,53.99 L305.29,53.99 L305.85,53.99 L306.41,54.00 L306.98,54.00 L307.54,54.01 L308.10,54.01 L308.66,54.01 L309.22,54.02 L309.78,54.02 L310.34,54.03 L310.90,54.03 L311.46,54.04 L312.02,54.04 L312.58,54.05 L313.14,54.05 L313.71,54.05 L314.27,54.06 L314.83,54.06 L315.39,54.07 L315.95,54.07 L316.51,54.08 L317.07,54.08 L317.63,54.09 L318.19,54.09 L318.75,54.09 L319.31,54.10 L319.87,54.10 L320.44,54.11 L321.00,54.11 L321.56,54.12 L322.12,54.12 L322.68,54.12 L323.24,54.13 L323.80,54.13 L324.36,54.14 L324.92,54.14 L325.48,54.15 L326.04,54.15 L326.60,54.15 L327.16,54.16 L327.73,54.16 L328.29,54.17 L328.85,54.17 L329.41,54.17 L329.97,54.18 L330.53,54.18 L331.09,54.19 L331.65,54.19 L332.21,54.20 L332.77,54.20 L333.33,54.20 L333.89,54.21 L334.46,54.21 L335.02,54.22 L335.58,54.22 L336.14,54.22 L336.70,54.23 L337.26,54.23 L337.82,54.24 L338.38,54.24 L338.94,54.24 L339.50,54.25 L340.06,54.25 L340.62,54.26 L341.19,54.26 L341.75,54.27 L342.31,54.27 L342.87,54.27 L343.43,54.28 L343.99,54.28 L344.55,54.29 L345.11,54.29 L345.67,54.29 L346.23,54.30 L346.79,54.30 L347.35,54.31 L347.91,54.31 L348.48,54.32 L349.04,54.32 L349.60,54.32 L350.16,54.33 L350.72,54.33 L351.28,54.34 L351.84,54.34 L352.40,54.34 L352.96,54.35 L353.52,54.35 L354.08,54.36 L354.64,54.36 L355.21,54.36 L355.77,54.37 L356.33,54.37 L356.89,54.38 L357.45,54.38 L358.01,54.39 L358.57,54.39 L359.13,54.39 L359.69,54.40 L360.25,54.40 L360.81,54.41 L361.37,54.41 L361.94,54.41 L362.50,54.42 L363.06,54.42 L363.62,54.43 L364.18,54.43 L364.74,54.44 L365.30,54.44" fill="none" stroke="#2247b4" stroke-width="1.4" stroke-linecap="butt" stroke-linejoin="round"/>
<rect x="555" y="15.7" width="136.2" height="64.8" fill="#fff"/>
<line x1="555.00" y1="15.70" x2="691.20" y2="15.70" stroke="#d0d0d0" stroke-width="1.0"/>
<line x1="691.20" y1="15.70" x2="691.20" y2="80.50" stroke="#e2e2e2" stroke-width="1.0"/>
<line x1="555.00" y1="15.20" x2="555.00" y2="81.00" stroke="#bdbdbd" stroke-width="1.1"/>
<line x1="555.00" y1="80.50" x2="691.70" y2="80.50" stroke="#bdbdbd" stroke-width="1.1"/>
<line x1="568.62" y1="80.50" x2="568.62" y2="77.50" stroke="#c0c0c0" stroke-width="0.9"/>
<line x1="582.24" y1="80.50" x2="582.24" y2="75.50" stroke="#c0c0c0" stroke-width="0.9"/>
<line x1="595.86" y1="80.50" x2="595.86" y2="77.50" stroke="#c0c0c0" stroke-width="0.9"/>
<line x1="609.48" y1="80.50" x2="609.48" y2="75.50" stroke="#c0c0c0" stroke-width="0.9"/>
<line x1="623.10" y1="80.50" x2="623.10" y2="77.50" stroke="#c0c0c0" stroke-width="0.9"/>
<line x1="636.72" y1="80.50" x2="636.72" y2="75.50" stroke="#c0c0c0" stroke-width="0.9"/>
<line x1="650.34" y1="80.50" x2="650.34" y2="77.50" stroke="#c0c0c0" stroke-width="0.9"/>
<line x1="663.96" y1="80.50" x2="663.96" y2="75.50" stroke="#c0c0c0" stroke-width="0.9"/>
<line x1="677.58" y1="80.50" x2="677.58" y2="77.50" stroke="#c0c0c0" stroke-width="0.9"/>
<line x1="555.00" y1="70.38" x2="558.00" y2="70.38" stroke="#c0c0c0" stroke-width="0.9"/>
<line x1="555.00" y1="60.25" x2="560.00" y2="60.25" stroke="#c0c0c0" stroke-width="0.9"/>
<line x1="555.00" y1="50.12" x2="558.00" y2="50.12" stroke="#c0c0c0" stroke-width="0.9"/>
<line x1="555.00" y1="40.00" x2="560.00" y2="40.00" stroke="#c0c0c0" stroke-width="0.9"/>
<line x1="555.00" y1="29.88" x2="558.00" y2="29.88" stroke="#c0c0c0" stroke-width="0.9"/>
<line x1="555.00" y1="19.75" x2="560.00" y2="19.75" stroke="#c0c0c0" stroke-width="0.9"/>
<text x="549.70" y="85.10" font-size="10.5" text-anchor="end" fill="#111">3</text>
<text x="549.70" y="64.85" font-size="10.5" text-anchor="end" fill="#111">3.2</text>
<text x="549.70" y="44.60" font-size="10.5" text-anchor="end" fill="#111">3.4</text>
<text x="549.70" y="24.35" font-size="10.5" text-anchor="end" fill="#111">3.6</text>
<text x="555.00" y="96.40" font-size="10.5" text-anchor="middle" fill="#111">0</text>
<text x="582.24" y="96.40" font-size="10.5" text-anchor="middle" fill="#111">100</text>
<text x="609.48" y="96.40" font-size="10.5" text-anchor="middle" fill="#111">200</text>
<text x="636.72" y="96.40" font-size="10.5" text-anchor="middle" fill="#111">300</text>
<text x="663.96" y="96.40" font-size="10.5" text-anchor="middle" fill="#111">400</text>
<text x="691.20" y="96.40" font-size="10.5" text-anchor="middle" fill="#111">500</text>
<path d="M555.00,17.72 L555.02,18.29 L555.03,18.85 L555.05,19.42 L555.07,19.98 L555.09,20.55 L555.11,21.11 L555.12,21.68 L555.14,22.24 L555.16,22.81 L555.18,23.37 L555.20,23.94 L555.22,24.50 L555.24,25.07 L555.26,25.63 L555.28,26.20 L555.30,26.76 L555.32,27.33 L555.34,27.89 L555.36,28.46 L555.38,29.02 L555.40,29.59 L555.42,30.15 L555.44,30.72 L555.46,31.29 L555.47,31.86 L555.49,32.43 L555.50,33.00 L555.52,33.57 L555.53,34.15 L555.55,34.72 L555.56,35.30 L555.57,35.87 L555.59,36.44 L555.60,37.02 L555.62,37.59 L555.64,38.16 L555.65,38.73 L555.67,39.30 L555.69,39.87 L555.72,40.44 L555.74,41.01 L555.77,41.57 L555.80,42.13 L555.83,42.69 L555.86,43.24 L555.90,43.79 L555.94,44.34 L555.98,44.89 L556.03,45.43 L556.08,45.97 L556.16,46.55 L556.33,47.20 L556.57,47.83 L556.85,48.33 L557.16,48.60 L557.54,48.69 L558.05,48.75 L558.65,48.81 L559.29,48.85 L559.92,48.88 L560.52,48.91 L561.08,48.95 L561.64,48.97 L562.21,49.00 L562.77,49.03 L563.34,49.05 L563.90,49.07 L564.47,49.10 L565.03,49.12 L565.60,49.14 L566.16,49.16 L566.73,49.17 L567.29,49.19 L567.86,49.21 L568.42,49.23 L568.99,49.24 L569.55,49.26 L570.12,49.28 L570.68,49.29 L571.25,49.31 L571.81,49.33 L572.38,49.35 L572.94,49.36 L573.51,49.38 L574.07,49.39 L574.64,49.40 L575.20,49.42 L575.77,49.43 L576.34,49.44 L576.90,49.45 L577.47,49.46 L578.04,49.47 L578.60,49.48 L579.17,49.50 L579.73,49.51 L580.30,49.52 L580.86,49.53 L581.43,49.54 L582.00,49.56 L582.56,49.57 L583.13,49.59 L583.69,49.60 L584.26,49.62 L584.82,49.64 L585.38,49.66 L585.95,49.68 L586.51,49.70 L587.08,49.72 L587.64,49.75 L588.20,49.78 L588.76,49.81 L589.33,49.84 L589.89,49.89 L590.46,49.95 L591.03,50.03 L591.59,50.12 L592.14,50.23 L592.67,50.35 L593.18,50.54 L593.67,50.82 L594.16,51.14 L594.64,51.48 L595.12,51.79 L595.62,52.06 L596.14,52.25 L596.68,52.43 L597.22,52.60 L597.78,52.75 L598.34,52.87 L598.89,52.95 L599.45,52.97 L600.01,52.99 L600.56,53.01 L601.12,53.03 L601.68,53.05 L602.24,53.07 L602.80,53.08 L603.36,53.10 L603.92,53.11 L604.48,53.13 L605.04,53.14 L605.61,53.15 L606.17,53.16 L606.74,53.17 L607.30,53.18 L607.87,53.19 L608.43,53.20 L609.00,53.20 L609.57,53.21 L610.13,53.22 L610.70,53.22 L611.27,53.23 L611.84,53.23 L612.41,53.24 L612.97,53.25 L613.54,53.25 L614.11,53.26 L614.68,53.26 L615.25,53.27 L615.82,53.27 L616.38,53.28 L616.95,53.28 L617.52,53.29 L618.09,53.29 L618.66,53.30 L619.23,53.31 L619.79,53.31 L620.36,53.32 L620.93,53.33 L621.49,53.34 L622.06,53.35 L622.63,53.36 L623.19,53.37 L623.76,53.38 L624.32,53.39 L624.89,53.40 L625.46,53.40 L626.02,53.41 L626.59,53.42 L627.16,53.43 L627.72,53.44 L628.29,53.44 L628.86,53.45 L629.43,53.46 L629.99,53.46 L630.56,53.47 L631.13,53.48 L631.70,53.49 L632.27,53.49 L632.83,53.50 L633.40,53.51 L633.97,53.52 L634.53,53.53 L635.10,53.54 L635.66,53.55 L636.23,53.57 L636.79,53.58 L637.36,53.60 L637.92,53.61 L638.48,53.63 L639.04,53.65 L639.61,53.66 L640.17,53.68 L640.73,53.71 L641.29,53.73 L641.84,53.75 L642.40,53.78 L642.96,53.85 L643.52,53.94 L644.08,54.06 L644.63,54.20 L645.18,54.35 L645.73,54.52 L646.26,54.68 L646.78,54.87 L647.29,55.10 L647.80,55.35 L648.30,55.63 L648.79,55.91 L649.29,56.19 L649.80,56.45 L650.31,56.69 L650.83,56.92 L651.35,57.14 L651.87,57.36 L652.40,57.57 L652.93,57.79 L653.46,57.99 L653.99,58.18 L654.53,58.36 L655.06,58.53 L655.60,58.68 L656.15,58.82 L656.69,58.95 L657.24,59.07 L657.79,59.19 L658.34,59.30 L658.90,59.41 L659.46,59.51 L660.02,59.61 L660.57,59.70 L661.14,59.79 L661.70,59.88 L662.26,59.97 L662.82,60.06 L663.37,60.15 L663.93,60.25 L664.49,60.33 L665.05,60.42 L665.61,60.49 L666.18,60.57 L666.74,60.64 L667.30,60.71 L667.86,60.78 L668.42,60.86 L668.98,60.94 L669.54,61.03 L670.09,61.13 L670.64,61.24 L671.22,61.35 L671.88,61.48 L672.55,61.63 L673.16,61.80 L673.66,61.99 L673.99,62.21 L674.13,62.48 L674.24,62.86 L674.33,63.32 L674.40,63.86 L674.46,64.45 L674.52,65.09 L674.57,65.75 L674.62,66.41 L674.68,67.06 L674.75,67.69 L674.84,68.28 L674.95,68.83 L675.07,69.38 L675.21,69.92 L675.36,70.47 L675.51,71.01 L675.68,71.56 L675.85,72.10 L676.03,72.64 L676.22,73.17 L676.41,73.71 L676.60,74.24 L676.79,74.78 L676.99,75.31 L677.18,75.83 L677.38,76.36 L677.59,76.88 L677.81,77.41 L678.03,77.93 L678.26,78.45 L678.49,78.96 L678.73,79.48 L678.97,79.99 L679.21,80.50" fill="none" stroke="#1d2383" stroke-width="1.4" stroke-linecap="butt" stroke-linejoin="round"/>
<path d="M555.00,15.70 L555.03,16.23 L555.07,16.76 L555.11,17.29 L555.14,17.81 L555.19,18.34 L555.23,18.87 L555.27,19.40 L555.32,19.93 L555.37,20.45 L555.42,20.98 L555.47,21.51 L555.52,22.03 L555.57,22.56 L555.63,23.09 L555.69,23.61 L555.74,24.14 L555.80,24.66 L555.86,25.19 L555.92,25.72 L555.98,26.24 L556.04,26.77 L556.10,27.30 L556.17,27.83 L556.24,28.36 L556.31,28.89 L556.38,29.42 L556.45,29.94 L556.53,30.47 L556.62,30.99 L556.70,31.51 L556.80,32.03 L556.89,32.55 L556.99,33.06 L557.10,33.58 L557.22,34.09 L557.34,34.60 L557.49,35.12 L557.64,35.64 L557.81,36.15 L558.00,36.67 L558.20,37.17 L558.41,37.66 L558.63,38.14 L558.87,38.59 L559.11,39.03 L559.38,39.45 L559.69,39.87 L560.02,40.28 L560.38,40.69 L560.76,41.08 L561.16,41.46 L561.57,41.83 L561.99,42.18 L562.42,42.51 L562.85,42.81 L563.27,43.10 L563.70,43.38 L564.15,43.65 L564.61,43.91 L565.09,44.16 L565.57,44.40 L566.06,44.63 L566.56,44.85 L567.06,45.05 L567.56,45.23 L568.06,45.40 L568.56,45.55 L569.06,45.69 L569.57,45.82 L570.08,45.94 L570.59,46.06 L571.11,46.18 L571.63,46.29 L572.15,46.39 L572.67,46.49 L573.20,46.58 L573.73,46.67 L574.25,46.76 L574.78,46.83 L575.31,46.91 L575.84,46.98 L576.36,47.04 L576.89,47.10 L577.41,47.15 L577.94,47.21 L578.46,47.26 L578.99,47.31 L579.52,47.36 L580.04,47.41 L580.57,47.45 L581.10,47.49 L581.63,47.54 L582.16,47.58 L582.68,47.61 L583.21,47.65 L583.74,47.69 L584.27,47.72 L584.80,47.75 L585.33,47.78 L585.86,47.81 L586.39,47.84 L586.92,47.86 L587.45,47.89 L587.97,47.91 L588.50,47.93 L589.03,47.95 L589.56,47.98 L590.09,48.00 L590.62,48.02 L591.15,48.04 L591.68,48.06 L592.20,48.08 L592.73,48.10 L593.26,48.12 L593.79,48.13 L594.32,48.15 L594.85,48.17 L595.38,48.19 L595.91,48.20 L596.44,48.22 L596.97,48.24 L597.50,48.25 L598.03,48.27 L598.56,48.28 L599.08,48.30 L599.61,48.31 L600.14,48.33 L600.67,48.34 L601.20,48.35 L601.73,48.37 L602.26,48.38 L602.79,48.39 L603.32,48.40 L603.85,48.41 L604.38,48.42 L604.91,48.43 L605.44,48.44 L605.97,48.45 L606.50,48.46 L607.03,48.47 L607.56,48.48 L608.08,48.49 L608.61,48.49 L609.14,48.50 L609.67,48.51 L610.20,48.51 L610.73,48.52 L611.26,48.53 L611.79,48.53 L612.32,48.54 L612.85,48.54 L613.38,48.55 L613.91,48.56 L614.44,48.56 L614.97,48.57 L615.49,48.57 L616.02,48.58 L616.55,48.59 L617.08,48.59 L617.61,48.60 L618.14,48.60 L618.67,48.61 L619.20,48.61 L619.73,48.62 L620.26,48.62 L620.79,48.63 L621.32,48.63 L621.85,48.64 L622.38,48.64 L622.91,48.65 L623.44,48.65 L623.97,48.65 L624.49,48.66 L625.02,48.66 L625.55,48.67 L626.08,48.67 L626.61,48.67 L627.14,48.68 L627.67,48.68 L628.20,48.68 L628.73,48.69 L629.26,48.69 L629.79,48.69 L630.32,48.69 L630.85,48.70 L631.38,48.70 L631.91,48.70 L632.44,48.70 L632.97,48.70 L633.49,48.70 L634.02,48.70 L634.55,48.71 L635.08,48.71 L635.61,48.71 L636.14,48.71 L636.67,48.71 L637.20,48.71 L637.73,48.71 L638.26,48.71 L638.79,48.71 L639.32,48.71 L639.85,48.71 L640.38,48.71 L640.91,48.71 L641.44,48.71 L641.97,48.71 L642.49,48.71 L643.02,48.71 L643.55,48.71 L644.08,48.71 L644.61,48.71 L645.14,48.71 L645.67,48.71 L646.20,48.71 L646.73,48.71 L647.26,48.71 L647.79,48.71 L648.32,48.71 L648.85,48.71 L649.38,48.71 L649.91,48.71 L650.44,48.71 L650.97,48.71 L651.49,48.71 L652.02,48.71 L652.55,48.71 L653.08,48.71 L653.61,48.71 L654.14,48.71 L654.67,48.71 L655.20,48.71 L655.73,48.71 L656.26,48.71 L656.79,48.71 L657.32,48.71 L657.85,48.71 L658.38,48.71 L658.91,48.71 L659.44,48.71 L659.96,48.71 L660.49,48.71 L661.02,48.71 L661.55,48.71 L662.08,48.71 L662.61,48.71 L663.14,48.71 L663.67,48.71 L664.20,48.71 L664.73,48.71 L665.26,48.71 L665.79,48.71 L666.32,48.71 L666.85,48.71 L667.38,48.71 L667.91,48.71 L668.44,48.71 L668.96,48.71 L669.49,48.71 L670.02,48.71 L670.55,48.71 L671.08,48.71 L671.61,48.71 L672.14,48.71 L672.67,48.71 L673.20,48.71 L673.73,48.71 L674.26,48.71 L674.79,48.71 L675.32,48.71 L675.85,48.71 L676.38,48.71 L676.91,48.71 L677.44,48.71 L677.96,48.71 L678.49,48.71 L679.02,48.71 L679.55,48.71 L680.08,48.71 L680.61,48.71 L681.14,48.71 L681.67,48.71 L682.20,48.71 L682.73,48.71 L683.26,48.71 L683.79,48.71 L684.32,48.71 L684.85,48.71 L685.38,48.71 L685.91,48.71 L686.44,48.71 L686.96,48.71 L687.49,48.71 L688.02,48.71 L688.55,48.71 L689.08,48.71 L689.61,48.71 L690.14,48.71 L690.67,48.71 L691.20,48.71" fill="none" stroke="#ff8f1f" stroke-width="1.4" stroke-linecap="butt" stroke-linejoin="round"/>
<rect x="229" y="179" width="136.3" height="64.6" fill="#fff"/>
<line x1="229.00" y1="179.00" x2="365.30" y2="179.00" stroke="#d0d0d0" stroke-width="1.0"/>
<line x1="365.30" y1="179.00" x2="365.30" y2="243.60" stroke="#e2e2e2" stroke-width="1.0"/>
<line x1="229.00" y1="178.50" x2="229.00" y2="244.10" stroke="#bdbdbd" stroke-width="1.1"/>
<line x1="229.00" y1="243.60" x2="365.80" y2="243.60" stroke="#bdbdbd" stroke-width="1.1"/>
<line x1="242.63" y1="243.60" x2="242.63" y2="240.60" stroke="#c0c0c0" stroke-width="0.9"/>
<line x1="256.26" y1="243.60" x2="256.26" y2="238.60" stroke="#c0c0c0" stroke-width="0.9"/>
<line x1="269.89" y1="243.60" x2="269.89" y2="240.60" stroke="#c0c0c0" stroke-width="0.9"/>
<line x1="283.52" y1="243.60" x2="283.52" y2="238.60" stroke="#c0c0c0" stroke-width="0.9"/>
<line x1="297.15" y1="243.60" x2="297.15" y2="240.60" stroke="#c0c0c0" stroke-width="0.9"/>
<line x1="310.78" y1="243.60" x2="310.78" y2="238.60" stroke="#c0c0c0" stroke-width="0.9"/>
<line x1="324.41" y1="243.60" x2="324.41" y2="240.60" stroke="#c0c0c0" stroke-width="0.9"/>
<line x1="338.04" y1="243.60" x2="338.04" y2="238.60" stroke="#c0c0c0" stroke-width="0.9"/>
<line x1="351.67" y1="243.60" x2="351.67" y2="240.60" stroke="#c0c0c0" stroke-width="0.9"/>
<line x1="229.00" y1="233.51" x2="232.00" y2="233.51" stroke="#c0c0c0" stroke-width="0.9"/>
<line x1="229.00" y1="223.41" x2="234.00" y2="223.41" stroke="#c0c0c0" stroke-width="0.9"/>
<line x1="229.00" y1="213.32" x2="232.00" y2="213.32" stroke="#c0c0c0" stroke-width="0.9"/>
<line x1="229.00" y1="203.22" x2="234.00" y2="203.22" stroke="#c0c0c0" stroke-width="0.9"/>
<line x1="229.00" y1="193.13" x2="232.00" y2="193.13" stroke="#c0c0c0" stroke-width="0.9"/>
<line x1="229.00" y1="183.04" x2="234.00" y2="183.04" stroke="#c0c0c0" stroke-width="0.9"/>
<text x="223.70" y="248.20" font-size="10.5" text-anchor="end" fill="#111">3</text>
<text x="223.70" y="228.01" font-size="10.5" text-anchor="end" fill="#111">3.2</text>
<text x="223.70" y="207.82" font-size="10.5" text-anchor="end" fill="#111">3.4</text>
<text x="223.70" y="187.64" font-size="10.5" text-anchor="end" fill="#111">3.6</text>
<text x="229.00" y="259.50" font-size="10.5" text-anchor="middle" fill="#111">0</text>
<text x="256.26" y="259.50" font-size="10.5" text-anchor="middle" fill="#111">100</text>
<text x="283.52" y="259.50" font-size="10.5" text-anchor="middle" fill="#111">200</text>
<text x="310.78" y="259.50" font-size="10.5" text-anchor="middle" fill="#111">300</text>
<text x="338.04" y="259.50" font-size="10.5" text-anchor="middle" fill="#111">400</text>
<text x="365.30" y="259.50" font-size="10.5" text-anchor="middle" fill="#111">500</text>
<path d="M229.00,179.00 L229.04,179.54 L229.09,180.07 L229.13,180.61 L229.18,181.14 L229.23,181.68 L229.28,182.21 L229.34,182.75 L229.39,183.28 L229.45,183.82 L229.51,184.35 L229.56,184.89 L229.62,185.42 L229.69,185.95 L229.75,186.49 L229.81,187.02 L229.88,187.55 L229.94,188.09 L230.01,188.62 L230.08,189.15 L230.15,189.69 L230.22,190.22 L230.29,190.75 L230.37,191.29 L230.44,191.82 L230.52,192.35 L230.61,192.88 L230.69,193.41 L230.78,193.94 L230.87,194.47 L230.96,195.00 L231.06,195.53 L231.16,196.05 L231.26,196.58 L231.37,197.11 L231.49,197.63 L231.61,198.16 L231.73,198.69 L231.86,199.21 L232.00,199.74 L232.14,200.26 L232.29,200.78 L232.44,201.30 L232.60,201.81 L232.77,202.32 L232.94,202.82 L233.12,203.31 L233.31,203.82 L233.52,204.33 L233.74,204.84 L233.97,205.35 L234.22,205.86 L234.47,206.35 L234.75,206.83 L235.04,207.28 L235.34,207.70 L235.65,208.09 L235.99,208.45 L236.36,208.80 L236.78,209.14 L237.23,209.46 L237.70,209.77 L238.19,210.06 L238.69,210.31 L239.19,210.54 L239.69,210.73 L240.18,210.88 L240.68,211.01 L241.20,211.14 L241.72,211.26 L242.26,211.37 L242.79,211.47 L243.33,211.56 L243.87,211.64 L244.41,211.71 L244.95,211.77 L245.49,211.81 L246.02,211.86 L246.55,211.90 L247.09,211.93 L247.62,211.97 L248.16,212.00 L248.69,212.04 L249.23,212.07 L249.77,212.10 L250.30,212.12 L250.84,212.15 L251.38,212.17 L251.92,212.20 L252.46,212.22 L252.99,212.24 L253.53,212.25 L254.07,212.27 L254.61,212.28 L255.15,212.29 L255.68,212.30 L256.22,212.31 L256.76,212.32 L257.30,212.32 L257.83,212.33 L258.37,212.33 L258.91,212.34 L259.44,212.35 L259.98,212.35 L260.52,212.36 L261.06,212.36 L261.59,212.37 L262.13,212.37 L262.67,212.38 L263.20,212.38 L263.74,212.39 L264.28,212.39 L264.82,212.40 L265.35,212.40 L265.89,212.41 L266.43,212.41 L266.96,212.42 L267.50,212.42 L268.04,212.42 L268.58,212.43 L269.11,212.43 L269.65,212.44 L270.19,212.44 L270.72,212.44 L271.26,212.45 L271.80,212.45 L272.34,212.45 L272.87,212.46 L273.41,212.46 L273.95,212.46 L274.49,212.47 L275.02,212.47 L275.56,212.47 L276.10,212.48 L276.64,212.48 L277.17,212.48 L277.71,212.49 L278.25,212.49 L278.78,212.49 L279.32,212.49 L279.86,212.50 L280.40,212.50 L280.93,212.50 L281.47,212.50 L282.01,212.51 L282.55,212.51 L283.08,212.51 L283.62,212.51 L284.16,212.52 L284.70,212.52 L285.23,212.52 L285.77,212.52 L286.31,212.52 L286.85,212.53 L287.38,212.53 L287.92,212.53 L288.46,212.53 L289.00,212.53 L289.53,212.54 L290.07,212.54 L290.61,212.54 L291.15,212.54 L291.68,212.54 L292.22,212.54 L292.76,212.55 L293.30,212.55 L293.83,212.55 L294.37,212.55 L294.91,212.55 L295.44,212.56 L295.98,212.56 L296.52,212.56 L297.06,212.56 L297.59,212.56 L298.13,212.56 L298.67,212.57 L299.21,212.57 L299.74,212.57 L300.28,212.57 L300.82,212.57 L301.36,212.58 L301.89,212.58 L302.43,212.58 L302.97,212.58 L303.51,212.58 L304.04,212.59 L304.58,212.59 L305.12,212.59 L305.66,212.59 L306.19,212.59 L306.73,212.60 L307.27,212.60 L307.81,212.60 L308.34,212.60 L308.88,212.60 L309.42,212.61 L309.95,212.61 L310.49,212.61 L311.03,212.61 L311.57,212.62 L312.10,212.62 L312.64,212.62 L313.18,212.62 L313.72,212.63 L314.25,212.63 L314.79,212.63 L315.33,212.63 L315.87,212.63 L316.40,212.64 L316.94,212.64 L317.48,212.64 L318.01,212.64 L318.55,212.65 L319.09,212.65 L319.63,212.65 L320.16,212.65 L320.70,212.66 L321.24,212.66 L321.78,212.66 L322.31,212.66 L322.85,212.66 L323.39,212.67 L323.93,212.67 L324.46,212.67 L325.00,212.67 L325.54,212.68 L326.07,212.68 L326.61,212.68 L327.15,212.68 L327.69,212.68 L328.22,212.69 L328.76,212.69 L329.30,212.69 L329.84,212.69 L330.37,212.69 L330.91,212.70 L331.45,212.70 L331.99,212.70 L332.52,212.70 L333.06,212.71 L333.60,212.71 L334.13,212.71 L334.67,212.71 L335.21,212.71 L335.75,212.72 L336.28,212.72 L336.82,212.72 L337.36,212.72 L337.90,212.72 L338.43,212.73 L338.97,212.73 L339.51,212.73 L340.05,212.73 L340.58,212.73 L341.12,212.74 L341.66,212.74 L342.19,212.74 L342.73,212.74 L343.27,212.74 L343.81,212.75 L344.34,212.75 L344.88,212.75 L345.42,212.75 L345.96,212.75 L346.49,212.76 L347.03,212.76 L347.57,212.76 L348.11,212.76 L348.64,212.76 L349.18,212.76 L349.72,212.77 L350.25,212.77 L350.79,212.77 L351.33,212.77 L351.87,212.77 L352.40,212.77 L352.94,212.78 L353.48,212.78 L354.02,212.78 L354.55,212.78 L355.09,212.78 L355.63,212.79 L356.17,212.79 L356.70,212.79 L357.24,212.79 L357.78,212.79 L358.31,212.79 L358.85,212.80 L359.39,212.80 L359.93,212.80 L360.46,212.80 L361.00,212.80 L361.54,212.80 L362.08,212.80 L362.61,212.81 L363.15,212.81 L363.69,212.81 L364.23,212.81 L364.76,212.81 L365.30,212.81" fill="none" stroke="#88ca8a" stroke-width="1.4" stroke-linecap="butt" stroke-linejoin="round"/>
<path d="M229.00,179.00 L229.01,179.55 L229.03,180.11 L229.04,180.66 L229.06,181.22 L229.07,181.77 L229.09,182.33 L229.11,182.88 L229.13,183.43 L229.15,183.99 L229.17,184.54 L229.19,185.10 L229.21,185.65 L229.23,186.20 L229.25,186.76 L229.28,187.31 L229.30,187.87 L229.32,188.42 L229.35,188.97 L229.37,189.53 L229.40,190.08 L229.42,190.63 L229.45,191.19 L229.48,191.74 L229.50,192.30 L229.53,192.85 L229.56,193.40 L229.59,193.96 L229.61,194.51 L229.64,195.07 L229.66,195.62 L229.69,196.18 L229.72,196.74 L229.75,197.29 L229.78,197.85 L229.81,198.41 L229.84,198.96 L229.87,199.52 L229.91,200.07 L229.94,200.63 L229.98,201.18 L230.02,201.73 L230.07,202.28 L230.12,202.83 L230.17,203.38 L230.22,203.93 L230.28,204.48 L230.34,205.02 L230.40,205.57 L230.49,206.13 L230.59,206.70 L230.70,207.28 L230.84,207.84 L230.99,208.40 L231.15,208.94 L231.34,209.45 L231.54,209.92 L231.76,210.36 L232.07,210.80 L232.48,211.25 L232.94,211.65 L233.44,211.95 L233.93,212.11 L234.42,212.18 L234.93,212.24 L235.46,212.30 L236.02,212.35 L236.58,212.39 L237.15,212.42 L237.73,212.45 L238.31,212.48 L238.89,212.49 L239.46,212.50 L240.01,212.51 L240.57,212.52 L241.12,212.52 L241.67,212.53 L242.23,212.54 L242.78,212.54 L243.34,212.55 L243.89,212.55 L244.44,212.56 L245.00,212.56 L245.55,212.57 L246.10,212.57 L246.66,212.58 L247.21,212.58 L247.77,212.58 L248.32,212.59 L248.87,212.59 L249.43,212.60 L249.98,212.60 L250.54,212.61 L251.09,212.61 L251.64,212.61 L252.20,212.62 L252.75,212.62 L253.31,212.63 L253.86,212.63 L254.41,212.63 L254.97,212.64 L255.52,212.64 L256.08,212.64 L256.63,212.65 L257.18,212.65 L257.74,212.65 L258.29,212.66 L258.85,212.66 L259.40,212.66 L259.96,212.66 L260.51,212.67 L261.06,212.67 L261.62,212.67 L262.17,212.68 L262.73,212.68 L263.28,212.68 L263.84,212.68 L264.39,212.68 L264.95,212.69 L265.50,212.69 L266.05,212.69 L266.61,212.69 L267.16,212.70 L267.72,212.70 L268.27,212.70 L268.83,212.70 L269.38,212.70 L269.94,212.71 L270.49,212.71 L271.04,212.71 L271.60,212.71 L272.15,212.71 L272.71,212.71 L273.26,212.72 L273.82,212.72 L274.37,212.72 L274.93,212.72 L275.48,212.72 L276.04,212.72 L276.59,212.73 L277.14,212.73 L277.70,212.73 L278.25,212.73 L278.81,212.73 L279.36,212.73 L279.92,212.73 L280.47,212.74 L281.03,212.74 L281.58,212.74 L282.14,212.74 L282.69,212.74 L283.24,212.74 L283.80,212.74 L284.35,212.74 L284.91,212.75 L285.46,212.75 L286.02,212.75 L286.57,212.75 L287.13,212.75 L287.68,212.75 L288.24,212.75 L288.79,212.75 L289.35,212.75 L289.90,212.76 L290.45,212.76 L291.01,212.76 L291.56,212.76 L292.12,212.76 L292.67,212.76 L293.23,212.76 L293.78,212.76 L294.34,212.77 L294.89,212.77 L295.45,212.77 L296.00,212.77 L296.56,212.77 L297.11,212.77 L297.66,212.77 L298.22,212.77 L298.77,212.78 L299.33,212.78 L299.88,212.78 L300.44,212.78 L300.99,212.78 L301.55,212.78 L302.10,212.79 L302.66,212.79 L303.21,212.79 L303.76,212.79 L304.32,212.79 L304.87,212.79 L305.43,212.80 L305.98,212.80 L306.54,212.80 L307.09,212.80 L307.65,212.80 L308.20,212.80 L308.75,212.81 L309.31,212.81 L309.86,212.81 L310.42,212.81 L310.97,212.81 L311.53,212.82 L312.08,212.82 L312.64,212.82 L313.19,212.82 L313.74,212.83 L314.30,212.83 L314.85,212.83 L315.41,212.83 L315.96,212.83 L316.52,212.84 L317.07,212.84 L317.62,212.84 L318.18,212.84 L318.73,212.85 L319.29,212.85 L319.84,212.85 L320.40,212.85 L320.95,212.85 L321.51,212.86 L322.06,212.86 L322.61,212.86 L323.17,212.86 L323.72,212.86 L324.28,212.87 L324.83,212.87 L325.39,212.87 L325.94,212.87 L326.49,212.88 L327.05,212.88 L327.60,212.88 L328.16,212.88 L328.71,212.88 L329.27,212.89 L329.82,212.89 L330.38,212.89 L330.93,212.89 L331.48,212.89 L332.04,212.90 L332.59,212.90 L333.15,212.90 L333.70,212.90 L334.26,212.90 L334.81,212.91 L335.36,212.91 L335.92,212.91 L336.47,212.91 L337.03,212.91 L337.58,212.92 L338.14,212.92 L338.69,212.92 L339.24,212.92 L339.80,212.92 L340.35,212.93 L340.91,212.93 L341.46,212.93 L342.02,212.93 L342.57,212.94 L343.13,212.94 L343.68,212.94 L344.23,212.94 L344.79,212.94 L345.34,212.95 L345.90,212.95 L346.45,212.95 L347.01,212.95 L347.56,212.95 L348.11,212.96 L348.67,212.96 L349.22,212.96 L349.78,212.96 L350.33,212.96 L350.89,212.97 L351.44,212.97 L352.00,212.97 L352.55,212.97 L353.10,212.97 L353.66,212.98 L354.21,212.98 L354.77,212.98 L355.32,212.98 L355.88,212.98 L356.43,212.98 L356.98,212.99 L357.54,212.99 L358.09,212.99 L358.65,212.99 L359.20,212.99 L359.76,213.00 L360.31,213.00 L360.87,213.00 L361.42,213.00 L361.97,213.00 L362.53,213.01 L363.08,213.01 L363.64,213.01 L364.19,213.01 L364.75,213.01 L365.30,213.02" fill="none" stroke="#2e6a68" stroke-width="1.4" stroke-linecap="butt" stroke-linejoin="round"/>
<rect x="555" y="179" width="136.3" height="64.6" fill="#fff"/>
<line x1="555.00" y1="179.00" x2="691.30" y2="179.00" stroke="#d0d0d0" stroke-width="1.0"/>
<line x1="691.30" y1="179.00" x2="691.30" y2="243.60" stroke="#e2e2e2" stroke-width="1.0"/>
<line x1="555.00" y1="178.50" x2="555.00" y2="244.10" stroke="#bdbdbd" stroke-width="1.1"/>
<line x1="555.00" y1="243.60" x2="691.80" y2="243.60" stroke="#bdbdbd" stroke-width="1.1"/>
<line x1="568.63" y1="243.60" x2="568.63" y2="240.60" stroke="#c0c0c0" stroke-width="0.9"/>
<line x1="582.26" y1="243.60" x2="582.26" y2="238.60" stroke="#c0c0c0" stroke-width="0.9"/>
<line x1="595.89" y1="243.60" x2="595.89" y2="240.60" stroke="#c0c0c0" stroke-width="0.9"/>
<line x1="609.52" y1="243.60" x2="609.52" y2="238.60" stroke="#c0c0c0" stroke-width="0.9"/>
<line x1="623.15" y1="243.60" x2="623.15" y2="240.60" stroke="#c0c0c0" stroke-width="0.9"/>
<line x1="636.78" y1="243.60" x2="636.78" y2="238.60" stroke="#c0c0c0" stroke-width="0.9"/>
<line x1="650.41" y1="243.60" x2="650.41" y2="240.60" stroke="#c0c0c0" stroke-width="0.9"/>
<line x1="664.04" y1="243.60" x2="664.04" y2="238.60" stroke="#c0c0c0" stroke-width="0.9"/>
<line x1="677.67" y1="243.60" x2="677.67" y2="240.60" stroke="#c0c0c0" stroke-width="0.9"/>
<line x1="555.00" y1="233.51" x2="558.00" y2="233.51" stroke="#c0c0c0" stroke-width="0.9"/>
<line x1="555.00" y1="223.41" x2="560.00" y2="223.41" stroke="#c0c0c0" stroke-width="0.9"/>
<line x1="555.00" y1="213.32" x2="558.00" y2="213.32" stroke="#c0c0c0" stroke-width="0.9"/>
<line x1="555.00" y1="203.22" x2="560.00" y2="203.22" stroke="#c0c0c0" stroke-width="0.9"/>
<line x1="555.00" y1="193.13" x2="558.00" y2="193.13" stroke="#c0c0c0" stroke-width="0.9"/>
<line x1="555.00" y1="183.04" x2="560.00" y2="183.04" stroke="#c0c0c0" stroke-width="0.9"/>
<text x="549.70" y="248.20" font-size="10.5" text-anchor="end" fill="#111">3</text>
<text x="549.70" y="228.01" font-size="10.5" text-anchor="end" fill="#111">3.2</text>
<text x="549.70" y="207.82" font-size="10.5" text-anchor="end" fill="#111">3.4</text>
<text x="549.70" y="187.64" font-size="10.5" text-anchor="end" fill="#111">3.6</text>
<text x="555.00" y="259.50" font-size="10.5" text-anchor="middle" fill="#111">0</text>
<text x="582.26" y="259.50" font-size="10.5" text-anchor="middle" fill="#111">100</text>
<text x="609.52" y="259.50" font-size="10.5" text-anchor="middle" fill="#111">200</text>
<text x="636.78" y="259.50" font-size="10.5" text-anchor="middle" fill="#111">300</text>
<text x="664.04" y="259.50" font-size="10.5" text-anchor="middle" fill="#111">400</text>
<text x="691.30" y="259.50" font-size="10.5" text-anchor="middle" fill="#111">500</text>
<path d="M555.00,179.00 L555.02,179.56 L555.03,180.11 L555.05,180.67 L555.07,181.22 L555.09,181.78 L555.11,182.34 L555.12,182.89 L555.14,183.45 L555.16,184.00 L555.18,184.56 L555.21,185.11 L555.23,185.67 L555.25,186.23 L555.27,186.78 L555.29,187.34 L555.32,187.89 L555.34,188.45 L555.36,189.00 L555.39,189.56 L555.41,190.12 L555.43,190.67 L555.46,191.23 L555.48,191.78 L555.51,192.34 L555.53,192.89 L555.56,193.45 L555.58,194.01 L555.61,194.56 L555.63,195.12 L555.65,195.68 L555.67,196.24 L555.70,196.80 L555.72,197.36 L555.74,197.92 L555.76,198.48 L555.78,199.04 L555.81,199.60 L555.83,200.16 L555.86,200.72 L555.89,201.28 L555.92,201.84 L555.95,202.40 L555.99,202.95 L556.02,203.50 L556.06,204.06 L556.11,204.61 L556.15,205.15 L556.20,205.70 L556.25,206.25 L556.31,206.79 L556.37,207.33 L556.45,207.90 L556.57,208.50 L556.71,209.11 L556.89,209.70 L557.09,210.26 L557.32,210.74 L557.58,211.13 L557.87,211.42 L558.33,211.68 L558.90,211.90 L559.50,212.05 L560.05,212.12 L560.59,212.15 L561.14,212.18 L561.69,212.21 L562.25,212.24 L562.81,212.26 L563.37,212.27 L563.93,212.29 L564.50,212.30 L565.06,212.30 L565.62,212.31 L566.17,212.31 L566.73,212.31 L567.28,212.31 L567.84,212.32 L568.40,212.32 L568.95,212.32 L569.51,212.32 L570.06,212.32 L570.62,212.33 L571.18,212.33 L571.73,212.33 L572.29,212.33 L572.84,212.33 L573.40,212.33 L573.96,212.33 L574.51,212.34 L575.07,212.34 L575.62,212.34 L576.18,212.34 L576.74,212.34 L577.29,212.34 L577.85,212.34 L578.40,212.35 L578.96,212.35 L579.52,212.35 L580.07,212.35 L580.63,212.35 L581.18,212.35 L581.74,212.35 L582.30,212.35 L582.85,212.36 L583.41,212.36 L583.97,212.36 L584.52,212.36 L585.08,212.36 L585.63,212.36 L586.19,212.36 L586.75,212.36 L587.30,212.36 L587.86,212.36 L588.41,212.36 L588.97,212.36 L589.53,212.37 L590.08,212.37 L590.64,212.37 L591.19,212.37 L591.75,212.37 L592.31,212.37 L592.86,212.37 L593.42,212.37 L593.98,212.37 L594.53,212.37 L595.09,212.37 L595.64,212.37 L596.20,212.37 L596.76,212.37 L597.31,212.37 L597.87,212.38 L598.42,212.38 L598.98,212.38 L599.54,212.38 L600.09,212.38 L600.65,212.38 L601.21,212.38 L601.76,212.38 L602.32,212.38 L602.87,212.38 L603.43,212.38 L603.99,212.38 L604.54,212.38 L605.10,212.38 L605.65,212.38 L606.21,212.38 L606.77,212.38 L607.32,212.38 L607.88,212.38 L608.44,212.38 L608.99,212.38 L609.55,212.38 L610.10,212.38 L610.66,212.38 L611.22,212.39 L611.77,212.39 L612.33,212.39 L612.89,212.39 L613.44,212.39 L614.00,212.39 L614.55,212.39 L615.11,212.39 L615.67,212.39 L616.22,212.39 L616.78,212.39 L617.33,212.39 L617.89,212.39 L618.45,212.39 L619.00,212.39 L619.56,212.39 L620.12,212.39 L620.67,212.39 L621.23,212.39 L621.78,212.39 L622.34,212.39 L622.90,212.39 L623.45,212.39 L624.01,212.39 L624.56,212.40 L625.12,212.40 L625.68,212.40 L626.23,212.40 L626.79,212.40 L627.35,212.40 L627.90,212.40 L628.46,212.40 L629.01,212.40 L629.57,212.40 L630.13,212.40 L630.68,212.40 L631.24,212.40 L631.80,212.40 L632.35,212.40 L632.91,212.40 L633.46,212.41 L634.02,212.41 L634.58,212.41 L635.13,212.41 L635.69,212.41 L636.24,212.41 L636.80,212.41 L637.36,212.41 L637.91,212.41 L638.47,212.41 L639.02,212.41 L639.58,212.41 L640.14,212.42 L640.69,212.42 L641.25,212.42 L641.81,212.42 L642.36,212.42 L642.92,212.42 L643.47,212.42 L644.03,212.42 L644.59,212.42 L645.14,212.42 L645.70,212.43 L646.25,212.43 L646.81,212.43 L647.37,212.43 L647.92,212.43 L648.48,212.43 L649.03,212.43 L649.59,212.43 L650.15,212.43 L650.70,212.43 L651.26,212.43 L651.82,212.44 L652.37,212.44 L652.93,212.44 L653.48,212.44 L654.04,212.44 L654.60,212.44 L655.15,212.44 L655.71,212.44 L656.26,212.44 L656.82,212.44 L657.38,212.45 L657.93,212.45 L658.49,212.45 L659.05,212.45 L659.60,212.45 L660.16,212.45 L660.71,212.45 L661.27,212.45 L661.83,212.45 L662.38,212.45 L662.94,212.46 L663.49,212.46 L664.05,212.46 L664.61,212.46 L665.16,212.46 L665.72,212.46 L666.27,212.46 L666.83,212.46 L667.39,212.46 L667.94,212.47 L668.50,212.47 L669.06,212.47 L669.61,212.47 L670.17,212.47 L670.72,212.47 L671.28,212.47 L671.84,212.47 L672.39,212.47 L672.95,212.47 L673.50,212.48 L674.06,212.48 L674.62,212.48 L675.17,212.48 L675.73,212.48 L676.28,212.48 L676.84,212.48 L677.40,212.48 L677.95,212.48 L678.51,212.49 L679.07,212.49 L679.62,212.49 L680.18,212.49 L680.73,212.49 L681.29,212.49 L681.85,212.49 L682.40,212.49 L682.96,212.49 L683.51,212.50 L684.07,212.50 L684.63,212.50 L685.18,212.50 L685.74,212.50 L686.29,212.50 L686.85,212.50 L687.41,212.50 L687.96,212.50 L688.52,212.51 L689.08,212.51 L689.63,212.51 L690.19,212.51 L690.74,212.51 L691.30,212.51" fill="none" stroke="#3a3a12" stroke-width="1.4" stroke-linecap="butt" stroke-linejoin="round"/>
<path d="M555.00,179.00 L555.05,179.52 L555.09,180.03 L555.15,180.55 L555.20,181.07 L555.26,181.58 L555.33,182.10 L555.39,182.61 L555.46,183.12 L555.53,183.64 L555.60,184.15 L555.68,184.66 L555.76,185.17 L555.84,185.68 L555.92,186.20 L556.01,186.71 L556.09,187.22 L556.19,187.73 L556.28,188.24 L556.39,188.75 L556.49,189.26 L556.60,189.77 L556.72,190.27 L556.84,190.78 L556.96,191.28 L557.09,191.78 L557.22,192.28 L557.37,192.77 L557.52,193.27 L557.68,193.77 L557.85,194.27 L558.02,194.76 L558.21,195.25 L558.41,195.74 L558.62,196.21 L558.84,196.67 L559.06,197.12 L559.31,197.56 L559.58,198.00 L559.88,198.42 L560.20,198.84 L560.53,199.25 L560.87,199.65 L561.22,200.04 L561.57,200.43 L561.91,200.81 L562.27,201.19 L562.63,201.56 L563.01,201.93 L563.39,202.29 L563.78,202.63 L564.18,202.96 L564.59,203.26 L565.01,203.55 L565.45,203.82 L565.89,204.09 L566.35,204.34 L566.81,204.59 L567.28,204.83 L567.75,205.05 L568.22,205.27 L568.69,205.47 L569.17,205.67 L569.64,205.87 L570.12,206.06 L570.61,206.25 L571.09,206.43 L571.58,206.61 L572.07,206.79 L572.56,206.96 L573.05,207.13 L573.55,207.29 L574.04,207.45 L574.54,207.61 L575.04,207.76 L575.54,207.91 L576.04,208.05 L576.54,208.19 L577.04,208.32 L577.54,208.45 L578.04,208.58 L578.54,208.70 L579.04,208.82 L579.55,208.94 L580.05,209.05 L580.56,209.16 L581.07,209.27 L581.58,209.38 L582.09,209.48 L582.60,209.58 L583.11,209.67 L583.62,209.76 L584.13,209.85 L584.64,209.93 L585.15,210.01 L585.66,210.09 L586.17,210.17 L586.69,210.24 L587.20,210.32 L587.71,210.39 L588.23,210.46 L588.74,210.53 L589.26,210.59 L589.77,210.66 L590.29,210.72 L590.80,210.78 L591.32,210.83 L591.83,210.88 L592.35,210.93 L592.86,210.97 L593.38,211.01 L593.90,211.05 L594.41,211.09 L594.93,211.13 L595.45,211.17 L595.96,211.20 L596.48,211.24 L597.00,211.27 L597.51,211.30 L598.03,211.34 L598.55,211.37 L599.07,211.40 L599.58,211.42 L600.10,211.45 L600.62,211.48 L601.14,211.50 L601.66,211.52 L602.17,211.54 L602.69,211.56 L603.21,211.58 L603.73,211.59 L604.25,211.61 L604.76,211.62 L605.28,211.63 L605.80,211.65 L606.32,211.66 L606.84,211.67 L607.35,211.68 L607.87,211.70 L608.39,211.71 L608.91,211.72 L609.43,211.73 L609.94,211.74 L610.46,211.75 L610.98,211.76 L611.50,211.77 L612.02,211.78 L612.53,211.79 L613.05,211.80 L613.57,211.81 L614.09,211.82 L614.61,211.82 L615.13,211.83 L615.64,211.84 L616.16,211.85 L616.68,211.85 L617.20,211.86 L617.72,211.87 L618.23,211.87 L618.75,211.88 L619.27,211.88 L619.79,211.89 L620.31,211.89 L620.83,211.89 L621.34,211.90 L621.86,211.90 L622.38,211.90 L622.90,211.90 L623.42,211.91 L623.93,211.91 L624.45,211.91 L624.97,211.91 L625.49,211.91 L626.01,211.91 L626.53,211.92 L627.04,211.92 L627.56,211.92 L628.08,211.92 L628.60,211.92 L629.12,211.92 L629.63,211.93 L630.15,211.93 L630.67,211.93 L631.19,211.93 L631.71,211.93 L632.23,211.93 L632.74,211.93 L633.26,211.94 L633.78,211.94 L634.30,211.94 L634.82,211.94 L635.33,211.94 L635.85,211.94 L636.37,211.94 L636.89,211.94 L637.41,211.95 L637.93,211.95 L638.44,211.95 L638.96,211.95 L639.48,211.95 L640.00,211.95 L640.52,211.95 L641.03,211.95 L641.55,211.96 L642.07,211.96 L642.59,211.96 L643.11,211.96 L643.63,211.96 L644.14,211.96 L644.66,211.96 L645.18,211.96 L645.70,211.96 L646.22,211.96 L646.73,211.97 L647.25,211.97 L647.77,211.97 L648.29,211.97 L648.81,211.97 L649.33,211.97 L649.84,211.97 L650.36,211.97 L650.88,211.97 L651.40,211.97 L651.92,211.98 L652.43,211.98 L652.95,211.98 L653.47,211.98 L653.99,211.98 L654.51,211.98 L655.03,211.98 L655.54,211.98 L656.06,211.98 L656.58,211.98 L657.10,211.98 L657.62,211.98 L658.13,211.98 L658.65,211.99 L659.17,211.99 L659.69,211.99 L660.21,211.99 L660.73,211.99 L661.24,211.99 L661.76,211.99 L662.28,211.99 L662.80,211.99 L663.32,211.99 L663.83,211.99 L664.35,211.99 L664.87,211.99 L665.39,211.99 L665.91,211.99 L666.43,211.99 L666.94,212.00 L667.46,212.00 L667.98,212.00 L668.50,212.00 L669.02,212.00 L669.53,212.00 L670.05,212.00 L670.57,212.00 L671.09,212.00 L671.61,212.00 L672.13,212.00 L672.64,212.00 L673.16,212.00 L673.68,212.00 L674.20,212.00 L674.72,212.00 L675.23,212.00 L675.75,212.00 L676.27,212.00 L676.79,212.00 L677.31,212.00 L677.83,212.00 L678.34,212.00 L678.86,212.00 L679.38,212.00 L679.90,212.00 L680.42,212.00 L680.94,212.00 L681.45,212.00 L681.97,212.00 L682.49,212.01 L683.01,212.01 L683.53,212.01 L684.04,212.01 L684.56,212.01 L685.08,212.01 L685.60,212.01 L686.12,212.01 L686.64,212.01 L687.15,212.01 L687.67,212.01 L688.19,212.01 L688.71,212.01 L689.23,212.01 L689.75,212.01 L690.26,212.01 L690.78,212.01 L691.30,212.01" fill="none" stroke="#ffc60a" stroke-width="1.4" stroke-linecap="butt" stroke-linejoin="round"/>
<line x1="254.45" y1="134.20" x2="259.75" y2="134.20" stroke="#0f2f9e" stroke-width="2.5" stroke-linecap="round"/>
<text x="265.40" y="137.10" font-size="10.7" text-anchor="start" fill="#111" textLength="104.4" lengthAdjust="spacingAndGlyphs">CTRL+LiPF<tspan font-size="6.3" dy="2.5">6</tspan><tspan dy="-2.5">, T</tspan><tspan font-size="6.3" dy="2.5">F</tspan><tspan dy="-2.5">=70°C</tspan></text>
<line x1="457.65" y1="130.00" x2="462.95" y2="130.00" stroke="#ff8f1f" stroke-width="2.5" stroke-linecap="round"/>
<text x="468.60" y="132.90" font-size="10.7" text-anchor="start" fill="#111" textLength="185.2" lengthAdjust="spacingAndGlyphs">CTRL+LiPF<tspan font-size="6.3" dy="2.5">6</tspan><tspan dy="-2.5">+2VC+2DMT(AF), T</tspan><tspan font-size="6.3" dy="2.5">F</tspan><tspan dy="-2.5">=40°C</tspan></text>
<line x1="457.65" y1="146.10" x2="462.95" y2="146.10" stroke="#0b0f63" stroke-width="2.5" stroke-linecap="round"/>
<text x="468.60" y="149.00" font-size="10.7" text-anchor="start" fill="#111" textLength="158.2" lengthAdjust="spacingAndGlyphs">CTRL+LiPF<tspan font-size="6.3" dy="2.5">6</tspan><tspan dy="-2.5">+2DMT(AF), T</tspan><tspan font-size="6.3" dy="2.5">F</tspan><tspan dy="-2.5">=40°C</tspan></text>
<line x1="258.85" y1="281.70" x2="264.15" y2="281.70" stroke="#88ca8a" stroke-width="2.5" stroke-linecap="round"/>
<text x="269.80" y="284.60" font-size="10.7" text-anchor="start" fill="#111" textLength="104.2" lengthAdjust="spacingAndGlyphs">CTRL+LiFSI, T<tspan font-size="6.3" dy="2.5">F</tspan><tspan dy="-2.5">=40°C</tspan></text>
<line x1="258.85" y1="311.70" x2="264.15" y2="311.70" stroke="#20605e" stroke-width="2.5" stroke-linecap="round"/>
<text x="269.80" y="314.60" font-size="10.7" text-anchor="start" fill="#111" textLength="104.2" lengthAdjust="spacingAndGlyphs">CTRL+LiFSI, T<tspan font-size="6.3" dy="2.5">F</tspan><tspan dy="-2.5">=70°C</tspan></text>
<line x1="483.25" y1="293.00" x2="488.55" y2="293.00" stroke="#ffc60a" stroke-width="2.5" stroke-linecap="round"/>
<text x="494.20" y="295.90" font-size="10.7" text-anchor="start" fill="#111" textLength="184.5" lengthAdjust="spacingAndGlyphs">CTRL+LiFSI+2VC+2DMT(AF), T<tspan font-size="6.3" dy="2.5">F</tspan><tspan dy="-2.5">=40°C</tspan></text>
<line x1="483.25" y1="308.00" x2="488.55" y2="308.00" stroke="#1e1e05" stroke-width="2.5" stroke-linecap="round"/>
<text x="494.20" y="310.90" font-size="10.7" text-anchor="start" fill="#111" textLength="158.0" lengthAdjust="spacingAndGlyphs">CTRL+LiFSI+2DMT(AF), T<tspan font-size="6.3" dy="2.5">F</tspan><tspan dy="-2.5">=40°C</tspan></text>
</svg>
</body></html>
